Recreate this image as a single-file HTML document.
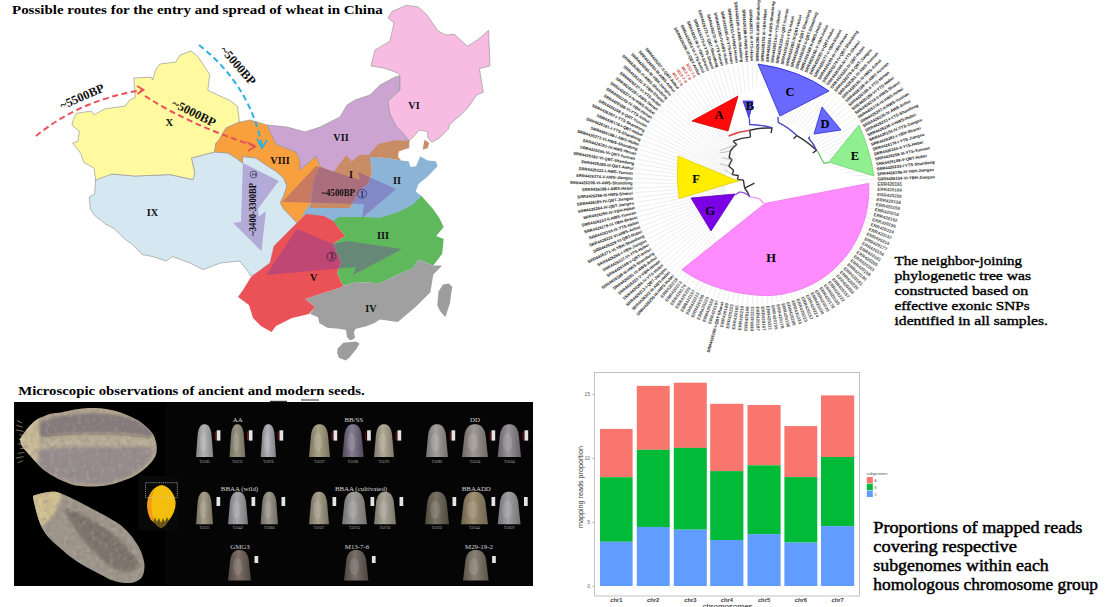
<!DOCTYPE html><html><head><meta charset="utf-8"><style>html,body{margin:0;padding:0;background:#fff;width:1108px;height:607px;overflow:hidden}svg{display:block}text{font-family:"Liberation Serif",serif}</style></head><body>
<svg width="1108" height="607" viewBox="0 0 1108 607">
<defs><radialGradient id="gr" cx="45%" cy="35%" r="75%"><stop offset="0" stop-color="#d8d4c8"/><stop offset="0.6" stop-color="#a9a395"/><stop offset="1" stop-color="#5e5a50"/></radialGradient><radialGradient id="gr2" cx="45%" cy="35%" r="75%"><stop offset="0" stop-color="#8a7e72"/><stop offset="0.7" stop-color="#5e544c"/><stop offset="1" stop-color="#3a332e"/></radialGradient><radialGradient id="sd" cx="50%" cy="50%" r="55%"><stop offset="0" stop-color="#8e8798"/><stop offset="0.55" stop-color="#a59f9b"/><stop offset="0.85" stop-color="#c8bda2"/><stop offset="1" stop-color="#d9cba0"/></radialGradient></defs>
<polygon points="95.7,178.7 103.3,174.3 112.0,174.0 135.0,176.0 170.0,174.6 193.0,179.6 194.7,173.0 191.4,158.0 214.5,152.0 228.0,153.0 236.0,158.0 242.5,163.0 242.5,156.5 256.0,158.0 265.6,164.7 275.5,171.0 283.7,178.0 287.0,186.0 283.7,196.0 280.4,202.6 283.7,209.0 292.0,217.5 297.0,223.0 282.0,238.0 274.0,246.0 270.0,263.0 255.0,274.0 250.6,276.0 248.4,271.8 239.8,261.0 220.3,263.0 203.0,269.6 190.0,263.0 172.6,256.6 166.0,261.0 153.0,256.6 142.3,254.5 131.5,243.6 125.0,239.3 114.0,228.5 105.5,224.0 94.7,215.5 90.3,209.0 89.2,197.0 94.7,193.8 95.7,178.7" fill="#d5e8f1" stroke="#9a9a9a" stroke-width="0.7"/>
<polygon points="191.0,51.0 197.9,56.7 209.8,74.5 207.8,90.3 229.6,100.3 237.5,106.2 239.5,122.0 226.0,128.0 219.0,140.0 216.0,143.0 214.5,152.0 191.4,158.0 194.7,173.0 193.0,179.6 170.0,174.6 135.0,176.0 112.0,174.0 95.6,180.0 94.1,168.2 83.7,162.3 80.8,153.4 72.6,143.0 77.8,141.5 79.3,131.2 71.9,125.2 73.4,119.3 76.3,113.4 91.2,111.0 94.1,114.8 104.5,109.0 125.3,106.0 129.7,100.0 135.3,97.4 133.9,78.0 151.2,77.2 152.6,80.0 155.5,70.0 160.0,64.0 176.0,62.0 180.0,55.0" fill="#fffaa0" stroke="#9a9a9a" stroke-width="0.7"/>
<polygon points="216.0,143.0 219.0,140.0 226.0,128.0 240.0,122.0 250.0,120.0 267.0,125.0 276.0,144.0 296.0,152.0 300.0,160.0 300.0,170.0 316.0,156.0 320.0,166.0 314.0,180.0 310.0,204.0 304.0,216.0 297.0,223.0 292.0,217.5 283.7,209.0 280.4,202.6 283.7,196.0 287.0,186.0 283.7,178.0 275.5,171.0 265.6,164.7 256.0,158.0 242.5,156.5 242.5,163.0 236.0,158.0 228.0,153.0 214.5,152.0" fill="#f8a03e" stroke="#9a9a9a" stroke-width="0.7"/>
<polygon points="267.0,125.0 287.0,127.0 305.0,132.0 320.0,127.0 340.0,117.0 347.0,105.0 355.0,100.0 370.0,95.0 380.0,85.0 395.0,77.0 400.0,76.0 400.0,90.0 388.0,101.0 390.0,114.0 396.0,126.0 403.0,133.0 409.0,141.0 409.0,148.0 390.0,150.0 372.0,160.0 360.0,165.0 348.0,168.0 332.0,178.0 320.0,172.0 320.0,166.0 316.0,156.0 300.0,170.0 300.0,160.0 296.0,152.0 276.0,144.0" fill="#cca4d2" stroke="#9a9a9a" stroke-width="0.7"/>
<polygon points="392.0,11.5 406.0,5.4 418.0,6.8 427.0,15.0 438.0,31.0 446.0,35.0 454.3,34.3 467.5,46.2 478.0,39.6 488.6,30.3 489.9,66.0 479.4,68.6 483.3,92.3 476.7,95.0 467.5,108.2 459.6,116.0 450.0,124.0 448.3,129.1 440.0,137.4 431.8,142.3 427.7,137.4 427.7,131.6 419.4,130.0 409.5,140.7 403.0,133.0 396.0,126.0 390.0,114.0 388.0,101.0 400.0,90.0 400.0,76.0 398.0,73.0 384.0,68.0 371.0,66.0 375.0,50.0 390.0,41.0 394.0,23.0 388.0,18.0" fill="#f8bce2" stroke="#9a9a9a" stroke-width="0.7"/>
<polygon points="370.0,157.0 386.5,158.0 401.3,160.4 408.7,161.2 410.4,167.0 416.0,166.2 420.2,156.3 427.7,160.4 436.0,161.2 437.5,166.2 427.4,176.7 418.5,184.0 415.6,191.5 421.5,196.0 425.0,206.0 400.0,224.0 380.0,226.0 344.0,226.0 324.0,226.0 300.0,226.0 304.0,212.0 310.0,204.0 332.0,208.0 350.0,208.0 360.0,190.0 368.0,184.0 372.0,172.0" fill="#8cb4d7" />
<polygon points="320.0,166.0 333.6,172.0 346.2,155.2 351.8,161.5 360.2,154.5 368.6,155.2 378.2,144.0 394.7,140.2 409.5,140.7 407.9,148.0 398.8,151.4 398.0,157.0 401.3,160.4 386.5,158.0 370.0,157.0 372.0,172.0 368.0,184.0 360.0,190.0 350.0,208.0 332.0,208.0 310.0,208.0 314.0,180.0" fill="#c98d66" />
<polygon points="424.4,139.8 429.3,143.0 427.7,148.0 422.7,149.7" fill="#c98d66" />
<polygon points="333.0,221.0 339.0,217.0 364.0,217.0 380.0,218.0 397.8,212.2 412.6,204.8 421.5,196.0 433.3,209.3 439.3,218.0 443.7,227.0 436.3,236.0 443.7,238.9 442.2,253.7 433.3,265.6 418.5,259.6 412.6,268.5 397.8,274.4 380.0,283.3 356.0,282.0 343.0,286.0 337.0,273.0 341.0,263.0 333.0,244.0 345.0,236.0" fill="#60b85c" />
<polygon points="343.0,286.0 356.0,282.0 380.0,283.3 397.8,274.4 412.6,268.5 418.5,259.6 433.3,265.6 442.2,265.6 433.3,274.4 430.4,292.2 415.6,307.0 397.8,321.9 380.0,319.6 374.6,323.0 365.4,326.5 356.0,328.8 345.8,330.0 338.8,328.8 327.3,327.7 319.2,323.0 318.0,317.3 310.0,313.8 315.0,307.0 305.0,299.0 317.0,295.0 342.0,287.0" fill="#a0a0a0" />
<polygon points="345.8,328.0 356.0,328.0 353.8,332.3 355.0,338.0 350.4,340.4 346.9,337.0" fill="#9d9d9d" />
<polygon points="337.7,348.4 343.4,342.7 356.0,341.5 359.6,343.8 356.0,349.6 349.2,357.7 345.8,360.5 338.8,357.7 337.1,353.0" fill="#9d9d9d" />
<polygon points="448.8,283.5 452.3,287.0 451.0,295.0 450.0,303.0 445.4,317.0 440.0,311.0 437.3,305.4 438.5,291.5 443.0,284.6" fill="#9d9d9d" />
<polygon points="297.0,223.0 304.0,216.0 306.0,214.0 324.0,216.0 333.0,221.0 345.0,236.0 333.0,244.0 341.0,263.0 337.0,273.0 343.0,286.0 342.0,287.0 317.0,295.0 305.0,299.0 315.0,307.0 309.0,314.0 292.0,318.0 276.0,326.0 271.5,332.0 261.0,326.0 253.0,318.0 249.0,305.0 238.0,297.0 243.0,290.0 251.0,277.0 270.0,263.0 274.0,246.0 282.0,238.0" fill="#ea5258" />
<polygon points="282.0,202.0 316.0,166.0 360.0,180.0 358.0,172.0 396.0,189.0 362.0,218.0 364.0,204.0" fill="rgb(116,54,165)" fill-opacity="0.35"/>
<polygon points="242.9,163.0 278.8,181.0 258.0,208.7 258.7,216.6 265.9,211.3 261.4,251.2 233.0,223.0 241.0,221.8" fill="rgb(116,54,165)" fill-opacity="0.35"/>
<polygon points="266.0,275.0 297.0,229.0 333.0,244.0 347.0,241.0 402.0,249.0 353.0,275.0 356.0,267.0" fill="rgb(116,54,165)" fill-opacity="0.36"/>
<path d="M36,136 Q80,100 142,90" fill="none" stroke="#e8505a" stroke-width="2" stroke-dasharray="6,3.6"/>
<path d="M137,86 L143.5,89.8 L137.5,94" fill="none" stroke="#e8505a" stroke-width="1.8"/>
<path d="M145,96 Q190,125 255,146" fill="none" stroke="#e8505a" stroke-width="2" stroke-dasharray="6,3.6"/>
<path d="M247,142 L255,146.5 L248,151" fill="none" stroke="#e8505a" stroke-width="1.8"/>
<path d="M199,45 Q250,85 262,146" fill="none" stroke="#2ab0e0" stroke-width="2" stroke-dasharray="6,3.6"/>
<path d="M257,139 L262,148 L267,140" fill="none" stroke="#2ab0e0" stroke-width="1.8"/>
<text x="0.0" y="0.0" font-size="12.4" font-weight="bold" text-anchor="middle" fill="#111" transform="translate(83.6,100.4) rotate(-23.4)">~5500BP</text>
<text x="0.0" y="0.0" font-size="12.4" font-weight="bold" text-anchor="middle" fill="#111" transform="translate(192.2,116.6) rotate(26.3)">~5000BP</text>
<text x="0.0" y="0.0" font-size="12.4" font-weight="bold" text-anchor="middle" fill="#111" transform="translate(235,68.2) rotate(49.2)">~5000BP</text>
<text x="169.2" y="126.0" font-size="10.5" font-weight="bold" text-anchor="middle" fill="#111" >X</text>
<text x="414.0" y="109.0" font-size="10.2" font-weight="bold" text-anchor="middle" fill="#111" >VI</text>
<text x="341.0" y="141.0" font-size="10.2" font-weight="bold" text-anchor="middle" fill="#111" >VII</text>
<text x="280.0" y="164.0" font-size="10.2" font-weight="bold" text-anchor="middle" fill="#111" >VIII</text>
<text x="351.0" y="178.0" font-size="10.2" font-weight="bold" text-anchor="middle" fill="#111" >I</text>
<text x="397.0" y="184.0" font-size="10.2" font-weight="bold" text-anchor="middle" fill="#111" >II</text>
<text x="321.5" y="195.9" font-size="10.0" font-weight="bold" text-anchor="start" fill="#111" textLength="33.5" lengthAdjust="spacingAndGlyphs">~4500BP</text>
<circle cx="362.1" cy="193.8" r="4.5" fill="none" stroke="#35356a" stroke-width="0.8"/>
<text x="362.1" y="196.6" font-size="7.5" font-weight="bold" text-anchor="middle" fill="#222" >1</text>
<text x="383.0" y="239.0" font-size="10.2" font-weight="bold" text-anchor="middle" fill="#111" >III</text>
<text x="313.7" y="281.0" font-size="10.2" font-weight="bold" text-anchor="middle" fill="#111" >V</text>
<text x="371.0" y="312.0" font-size="10.2" font-weight="bold" text-anchor="middle" fill="#111" >IV</text>
<text x="152.5" y="216.0" font-size="10.2" font-weight="bold" text-anchor="middle" fill="#111" >IX</text>
<circle cx="331.5" cy="256.5" r="4.5" fill="none" stroke="#35254a" stroke-width="0.8"/>
<text x="331.5" y="259.3" font-size="7.5" font-weight="bold" text-anchor="middle" fill="#222" >3</text>
<text x="0.0" y="0.0" font-size="10.5" font-weight="bold" text-anchor="middle" fill="#111" transform="translate(255.5,209.3) rotate(-90)" textLength="52.7" lengthAdjust="spacingAndGlyphs">~3400-3300BP</text>
<circle cx="253.5" cy="174.5" r="3.4" fill="none" stroke="#35356a" stroke-width="0.7"/>
<text x="0.0" y="0.0" font-size="5.8" font-weight="bold" text-anchor="middle" fill="#222" transform="translate(255.6,174.5) rotate(-90)">2</text>
<text x="12.0" y="13.9" font-size="13.0" font-weight="bold" text-anchor="start" fill="#000" textLength="370.8" lengthAdjust="spacingAndGlyphs">Possible routes for the entry and spread of wheat in China</text>
<text x="18.2" y="394.8" font-size="12.0" font-weight="bold" text-anchor="start" fill="#000" textLength="346.5" lengthAdjust="spacingAndGlyphs">Microscopic observations of ancient and modern seeds.</text>
<line x1="785.0" y1="184.0" x2="875.5" y2="184.0" stroke="#e2e2e2" stroke-width="0.6"/>
<line x1="785.0" y1="185.3" x2="875.4" y2="189.0" stroke="#e2e2e2" stroke-width="0.6"/>
<line x1="784.9" y1="186.5" x2="875.1" y2="194.1" stroke="#e2e2e2" stroke-width="0.6"/>
<line x1="784.8" y1="187.8" x2="874.5" y2="199.1" stroke="#e2e2e2" stroke-width="0.6"/>
<line x1="784.6" y1="189.0" x2="873.8" y2="204.1" stroke="#e2e2e2" stroke-width="0.6"/>
<line x1="784.3" y1="190.2" x2="872.9" y2="209.1" stroke="#e2e2e2" stroke-width="0.6"/>
<line x1="784.1" y1="191.5" x2="871.7" y2="214.0" stroke="#e2e2e2" stroke-width="0.6"/>
<line x1="783.7" y1="192.7" x2="870.4" y2="218.8" stroke="#e2e2e2" stroke-width="0.6"/>
<line x1="783.3" y1="193.9" x2="868.8" y2="223.6" stroke="#e2e2e2" stroke-width="0.6"/>
<line x1="782.9" y1="195.0" x2="867.0" y2="228.4" stroke="#e2e2e2" stroke-width="0.6"/>
<line x1="782.4" y1="196.2" x2="865.1" y2="233.0" stroke="#e2e2e2" stroke-width="0.6"/>
<line x1="781.9" y1="197.3" x2="862.9" y2="237.6" stroke="#e2e2e2" stroke-width="0.6"/>
<line x1="781.3" y1="198.5" x2="860.6" y2="242.1" stroke="#e2e2e2" stroke-width="0.6"/>
<line x1="780.7" y1="199.5" x2="858.1" y2="246.4" stroke="#e2e2e2" stroke-width="0.6"/>
<line x1="780.0" y1="200.6" x2="855.4" y2="250.7" stroke="#e2e2e2" stroke-width="0.6"/>
<line x1="779.3" y1="201.6" x2="852.5" y2="254.8" stroke="#e2e2e2" stroke-width="0.6"/>
<line x1="778.5" y1="202.6" x2="849.4" y2="258.8" stroke="#e2e2e2" stroke-width="0.6"/>
<line x1="777.7" y1="203.6" x2="846.2" y2="262.7" stroke="#e2e2e2" stroke-width="0.6"/>
<line x1="776.9" y1="204.5" x2="842.8" y2="266.5" stroke="#e2e2e2" stroke-width="0.6"/>
<line x1="776.0" y1="205.4" x2="839.3" y2="270.1" stroke="#e2e2e2" stroke-width="0.6"/>
<line x1="775.1" y1="206.3" x2="835.6" y2="273.5" stroke="#e2e2e2" stroke-width="0.6"/>
<line x1="774.1" y1="207.1" x2="831.8" y2="276.8" stroke="#e2e2e2" stroke-width="0.6"/>
<line x1="773.1" y1="207.9" x2="827.9" y2="280.0" stroke="#e2e2e2" stroke-width="0.6"/>
<line x1="772.1" y1="208.6" x2="823.8" y2="282.9" stroke="#e2e2e2" stroke-width="0.6"/>
<line x1="771.1" y1="209.3" x2="819.6" y2="285.7" stroke="#e2e2e2" stroke-width="0.6"/>
<line x1="770.0" y1="210.0" x2="815.2" y2="288.4" stroke="#e2e2e2" stroke-width="0.6"/>
<line x1="768.9" y1="210.6" x2="810.8" y2="290.8" stroke="#e2e2e2" stroke-width="0.6"/>
<line x1="767.8" y1="211.1" x2="806.3" y2="293.0" stroke="#e2e2e2" stroke-width="0.6"/>
<line x1="766.6" y1="211.7" x2="801.7" y2="295.1" stroke="#e2e2e2" stroke-width="0.6"/>
<line x1="765.5" y1="212.1" x2="797.0" y2="296.9" stroke="#e2e2e2" stroke-width="0.6"/>
<line x1="764.3" y1="212.5" x2="792.2" y2="298.6" stroke="#e2e2e2" stroke-width="0.6"/>
<line x1="763.1" y1="212.9" x2="787.4" y2="300.1" stroke="#e2e2e2" stroke-width="0.6"/>
<line x1="761.9" y1="213.2" x2="782.5" y2="301.3" stroke="#e2e2e2" stroke-width="0.6"/>
<line x1="760.6" y1="213.5" x2="777.6" y2="302.4" stroke="#e2e2e2" stroke-width="0.6"/>
<line x1="759.4" y1="213.7" x2="772.6" y2="303.2" stroke="#e2e2e2" stroke-width="0.6"/>
<line x1="758.1" y1="213.8" x2="767.6" y2="303.8" stroke="#e2e2e2" stroke-width="0.6"/>
<line x1="756.9" y1="213.9" x2="762.6" y2="304.3" stroke="#e2e2e2" stroke-width="0.6"/>
<line x1="755.6" y1="214.0" x2="757.5" y2="304.5" stroke="#e2e2e2" stroke-width="0.6"/>
<line x1="754.4" y1="214.0" x2="752.5" y2="304.5" stroke="#e2e2e2" stroke-width="0.6"/>
<line x1="753.1" y1="213.9" x2="747.4" y2="304.3" stroke="#e2e2e2" stroke-width="0.6"/>
<line x1="751.9" y1="213.8" x2="742.4" y2="303.8" stroke="#e2e2e2" stroke-width="0.6"/>
<line x1="750.6" y1="213.7" x2="737.4" y2="303.2" stroke="#e2e2e2" stroke-width="0.6"/>
<line x1="749.4" y1="213.5" x2="732.4" y2="302.4" stroke="#e2e2e2" stroke-width="0.6"/>
<line x1="748.1" y1="213.2" x2="727.5" y2="301.3" stroke="#e2e2e2" stroke-width="0.6"/>
<line x1="746.9" y1="212.9" x2="722.6" y2="300.1" stroke="#e2e2e2" stroke-width="0.6"/>
<line x1="745.7" y1="212.5" x2="717.8" y2="298.6" stroke="#e2e2e2" stroke-width="0.6"/>
<line x1="744.5" y1="212.1" x2="713.0" y2="296.9" stroke="#e2e2e2" stroke-width="0.6"/>
<line x1="743.4" y1="211.7" x2="708.3" y2="295.1" stroke="#e2e2e2" stroke-width="0.6"/>
<line x1="742.2" y1="211.1" x2="703.7" y2="293.0" stroke="#e2e2e2" stroke-width="0.6"/>
<line x1="741.1" y1="210.6" x2="699.2" y2="290.8" stroke="#e2e2e2" stroke-width="0.6"/>
<line x1="740.0" y1="210.0" x2="694.8" y2="288.4" stroke="#e2e2e2" stroke-width="0.6"/>
<line x1="738.9" y1="209.3" x2="690.4" y2="285.7" stroke="#e2e2e2" stroke-width="0.6"/>
<line x1="737.9" y1="208.6" x2="686.2" y2="282.9" stroke="#e2e2e2" stroke-width="0.6"/>
<line x1="736.9" y1="207.9" x2="682.1" y2="280.0" stroke="#e2e2e2" stroke-width="0.6"/>
<line x1="735.9" y1="207.1" x2="678.2" y2="276.8" stroke="#e2e2e2" stroke-width="0.6"/>
<line x1="734.9" y1="206.3" x2="674.4" y2="273.5" stroke="#e2e2e2" stroke-width="0.6"/>
<line x1="734.0" y1="205.5" x2="670.8" y2="270.2" stroke="#e2e2e2" stroke-width="0.6"/>
<line x1="733.2" y1="204.6" x2="667.4" y2="266.8" stroke="#e2e2e2" stroke-width="0.6"/>
<line x1="732.4" y1="203.7" x2="664.2" y2="263.2" stroke="#e2e2e2" stroke-width="0.6"/>
<line x1="731.6" y1="202.8" x2="661.0" y2="259.5" stroke="#e2e2e2" stroke-width="0.6"/>
<line x1="730.9" y1="201.8" x2="658.1" y2="255.6" stroke="#e2e2e2" stroke-width="0.6"/>
<line x1="730.2" y1="200.8" x2="655.3" y2="251.7" stroke="#e2e2e2" stroke-width="0.6"/>
<line x1="729.5" y1="199.8" x2="652.6" y2="247.6" stroke="#e2e2e2" stroke-width="0.6"/>
<line x1="728.9" y1="198.8" x2="650.2" y2="243.4" stroke="#e2e2e2" stroke-width="0.6"/>
<line x1="728.3" y1="197.7" x2="647.9" y2="239.1" stroke="#e2e2e2" stroke-width="0.6"/>
<line x1="727.8" y1="196.6" x2="645.7" y2="234.8" stroke="#e2e2e2" stroke-width="0.6"/>
<line x1="727.3" y1="195.5" x2="643.8" y2="230.3" stroke="#e2e2e2" stroke-width="0.6"/>
<line x1="726.9" y1="194.4" x2="642.0" y2="225.8" stroke="#e2e2e2" stroke-width="0.6"/>
<line x1="726.5" y1="193.3" x2="640.4" y2="221.2" stroke="#e2e2e2" stroke-width="0.6"/>
<line x1="726.1" y1="192.1" x2="639.0" y2="216.6" stroke="#e2e2e2" stroke-width="0.6"/>
<line x1="725.8" y1="190.9" x2="637.8" y2="211.9" stroke="#e2e2e2" stroke-width="0.6"/>
<line x1="725.6" y1="189.8" x2="636.7" y2="207.2" stroke="#e2e2e2" stroke-width="0.6"/>
<line x1="725.4" y1="188.6" x2="635.9" y2="202.4" stroke="#e2e2e2" stroke-width="0.6"/>
<line x1="725.2" y1="187.4" x2="635.3" y2="197.6" stroke="#e2e2e2" stroke-width="0.6"/>
<line x1="725.1" y1="186.2" x2="634.8" y2="192.7" stroke="#e2e2e2" stroke-width="0.6"/>
<line x1="725.0" y1="185.0" x2="634.6" y2="187.9" stroke="#e2e2e2" stroke-width="0.6"/>
<line x1="725.0" y1="183.8" x2="634.5" y2="183.0" stroke="#e2e2e2" stroke-width="0.6"/>
<line x1="725.0" y1="182.6" x2="634.6" y2="178.2" stroke="#e2e2e2" stroke-width="0.6"/>
<line x1="725.1" y1="181.3" x2="635.0" y2="173.3" stroke="#e2e2e2" stroke-width="0.6"/>
<line x1="725.2" y1="180.1" x2="635.5" y2="168.5" stroke="#e2e2e2" stroke-width="0.6"/>
<line x1="725.4" y1="178.9" x2="636.2" y2="163.7" stroke="#e2e2e2" stroke-width="0.6"/>
<line x1="725.7" y1="177.8" x2="637.1" y2="158.9" stroke="#e2e2e2" stroke-width="0.6"/>
<line x1="725.9" y1="176.6" x2="638.2" y2="154.2" stroke="#e2e2e2" stroke-width="0.6"/>
<line x1="726.3" y1="175.4" x2="639.5" y2="149.5" stroke="#e2e2e2" stroke-width="0.6"/>
<line x1="726.6" y1="174.3" x2="641.0" y2="144.9" stroke="#e2e2e2" stroke-width="0.6"/>
<line x1="727.0" y1="173.1" x2="642.7" y2="140.4" stroke="#e2e2e2" stroke-width="0.6"/>
<line x1="727.5" y1="172.0" x2="644.5" y2="135.9" stroke="#e2e2e2" stroke-width="0.6"/>
<line x1="728.0" y1="170.9" x2="646.6" y2="131.5" stroke="#e2e2e2" stroke-width="0.6"/>
<line x1="728.5" y1="169.8" x2="648.8" y2="127.1" stroke="#e2e2e2" stroke-width="0.6"/>
<line x1="729.1" y1="168.8" x2="651.1" y2="122.9" stroke="#e2e2e2" stroke-width="0.6"/>
<line x1="729.8" y1="167.8" x2="653.7" y2="118.8" stroke="#e2e2e2" stroke-width="0.6"/>
<line x1="730.4" y1="166.8" x2="656.4" y2="114.8" stroke="#e2e2e2" stroke-width="0.6"/>
<line x1="731.2" y1="165.8" x2="659.3" y2="110.8" stroke="#e2e2e2" stroke-width="0.6"/>
<line x1="731.9" y1="164.8" x2="662.3" y2="107.0" stroke="#e2e2e2" stroke-width="0.6"/>
<line x1="732.7" y1="163.9" x2="665.5" y2="103.4" stroke="#e2e2e2" stroke-width="0.6"/>
<line x1="733.5" y1="163.0" x2="668.8" y2="99.8" stroke="#e2e2e2" stroke-width="0.6"/>
<line x1="734.4" y1="162.2" x2="672.3" y2="96.4" stroke="#e2e2e2" stroke-width="0.6"/>
<line x1="735.3" y1="161.4" x2="675.9" y2="93.1" stroke="#e2e2e2" stroke-width="0.6"/>
<line x1="736.3" y1="160.6" x2="679.7" y2="89.9" stroke="#e2e2e2" stroke-width="0.6"/>
<line x1="737.2" y1="159.8" x2="683.6" y2="86.9" stroke="#e2e2e2" stroke-width="0.6"/>
<line x1="738.2" y1="159.1" x2="687.6" y2="84.1" stroke="#e2e2e2" stroke-width="0.6"/>
<line x1="739.3" y1="158.5" x2="691.7" y2="81.4" stroke="#e2e2e2" stroke-width="0.6"/>
<line x1="740.3" y1="157.8" x2="696.0" y2="78.9" stroke="#e2e2e2" stroke-width="0.6"/>
<line x1="741.4" y1="157.3" x2="700.3" y2="76.6" stroke="#e2e2e2" stroke-width="0.6"/>
<line x1="742.5" y1="156.7" x2="704.7" y2="74.5" stroke="#e2e2e2" stroke-width="0.6"/>
<line x1="743.6" y1="156.3" x2="709.2" y2="72.5" stroke="#e2e2e2" stroke-width="0.6"/>
<line x1="744.7" y1="155.8" x2="713.8" y2="70.8" stroke="#e2e2e2" stroke-width="0.6"/>
<line x1="745.9" y1="155.4" x2="718.4" y2="69.2" stroke="#e2e2e2" stroke-width="0.6"/>
<line x1="747.1" y1="155.1" x2="723.1" y2="67.8" stroke="#e2e2e2" stroke-width="0.6"/>
<line x1="748.3" y1="154.8" x2="727.9" y2="66.6" stroke="#e2e2e2" stroke-width="0.6"/>
<line x1="749.4" y1="154.5" x2="732.7" y2="65.6" stroke="#e2e2e2" stroke-width="0.6"/>
<line x1="750.7" y1="154.3" x2="737.5" y2="64.8" stroke="#e2e2e2" stroke-width="0.6"/>
<line x1="751.9" y1="154.2" x2="742.4" y2="64.2" stroke="#e2e2e2" stroke-width="0.6"/>
<line x1="753.1" y1="154.1" x2="747.3" y2="63.7" stroke="#e2e2e2" stroke-width="0.6"/>
<line x1="754.3" y1="154.0" x2="752.2" y2="63.5" stroke="#e2e2e2" stroke-width="0.6"/>
<line x1="755.5" y1="154.0" x2="757.1" y2="63.5" stroke="#e2e2e2" stroke-width="0.6"/>
<line x1="756.7" y1="154.1" x2="762.0" y2="63.7" stroke="#e2e2e2" stroke-width="0.6"/>
<line x1="758.0" y1="154.1" x2="766.9" y2="64.1" stroke="#e2e2e2" stroke-width="0.6"/>
<line x1="759.2" y1="154.3" x2="771.8" y2="64.7" stroke="#e2e2e2" stroke-width="0.6"/>
<line x1="760.4" y1="154.5" x2="776.6" y2="65.5" stroke="#e2e2e2" stroke-width="0.6"/>
<line x1="761.6" y1="154.7" x2="781.4" y2="66.4" stroke="#e2e2e2" stroke-width="0.6"/>
<line x1="762.8" y1="155.0" x2="786.2" y2="67.6" stroke="#e2e2e2" stroke-width="0.6"/>
<line x1="763.9" y1="155.4" x2="790.9" y2="69.0" stroke="#e2e2e2" stroke-width="0.6"/>
<line x1="765.1" y1="155.8" x2="795.6" y2="70.5" stroke="#e2e2e2" stroke-width="0.6"/>
<line x1="766.2" y1="156.2" x2="800.1" y2="72.3" stroke="#e2e2e2" stroke-width="0.6"/>
<line x1="767.4" y1="156.7" x2="804.7" y2="74.2" stroke="#e2e2e2" stroke-width="0.6"/>
<line x1="768.5" y1="157.2" x2="809.1" y2="76.3" stroke="#e2e2e2" stroke-width="0.6"/>
<line x1="769.5" y1="157.8" x2="813.4" y2="78.6" stroke="#e2e2e2" stroke-width="0.6"/>
<line x1="770.6" y1="158.4" x2="817.7" y2="81.1" stroke="#e2e2e2" stroke-width="0.6"/>
<line x1="771.6" y1="159.0" x2="821.8" y2="83.7" stroke="#e2e2e2" stroke-width="0.6"/>
<line x1="772.6" y1="159.7" x2="825.8" y2="86.5" stroke="#e2e2e2" stroke-width="0.6"/>
<line x1="773.6" y1="160.5" x2="829.7" y2="89.5" stroke="#e2e2e2" stroke-width="0.6"/>
<line x1="774.5" y1="161.2" x2="833.5" y2="92.6" stroke="#e2e2e2" stroke-width="0.6"/>
<line x1="775.5" y1="162.1" x2="837.2" y2="95.9" stroke="#e2e2e2" stroke-width="0.6"/>
<line x1="776.3" y1="162.9" x2="840.7" y2="99.3" stroke="#e2e2e2" stroke-width="0.6"/>
<line x1="777.2" y1="163.8" x2="844.1" y2="102.9" stroke="#e2e2e2" stroke-width="0.6"/>
<line x1="778.0" y1="164.7" x2="847.3" y2="106.5" stroke="#e2e2e2" stroke-width="0.6"/>
<line x1="778.8" y1="165.7" x2="850.4" y2="110.4" stroke="#e2e2e2" stroke-width="0.6"/>
<line x1="779.5" y1="166.7" x2="853.4" y2="114.4" stroke="#e2e2e2" stroke-width="0.6"/>
<line x1="780.2" y1="167.7" x2="856.1" y2="118.5" stroke="#e2e2e2" stroke-width="0.6"/>
<line x1="780.8" y1="168.7" x2="858.7" y2="122.7" stroke="#e2e2e2" stroke-width="0.6"/>
<line x1="781.4" y1="169.8" x2="861.2" y2="127.0" stroke="#e2e2e2" stroke-width="0.6"/>
<line x1="782.0" y1="170.9" x2="863.4" y2="131.4" stroke="#e2e2e2" stroke-width="0.6"/>
<line x1="782.5" y1="172.0" x2="865.5" y2="135.9" stroke="#e2e2e2" stroke-width="0.6"/>
<line x1="783.0" y1="173.2" x2="867.4" y2="140.5" stroke="#e2e2e2" stroke-width="0.6"/>
<line x1="783.4" y1="174.3" x2="869.1" y2="145.1" stroke="#e2e2e2" stroke-width="0.6"/>
<line x1="783.8" y1="175.5" x2="870.6" y2="149.8" stroke="#e2e2e2" stroke-width="0.6"/>
<line x1="784.1" y1="176.7" x2="871.9" y2="154.6" stroke="#e2e2e2" stroke-width="0.6"/>
<line x1="784.4" y1="177.9" x2="873.0" y2="159.4" stroke="#e2e2e2" stroke-width="0.6"/>
<line x1="784.6" y1="179.1" x2="873.9" y2="164.3" stroke="#e2e2e2" stroke-width="0.6"/>
<line x1="784.8" y1="180.3" x2="874.6" y2="169.2" stroke="#e2e2e2" stroke-width="0.6"/>
<line x1="784.9" y1="181.5" x2="875.1" y2="174.1" stroke="#e2e2e2" stroke-width="0.6"/>
<line x1="785.0" y1="182.8" x2="875.4" y2="179.1" stroke="#e2e2e2" stroke-width="0.6"/>
<text x="877.5" y="184.0" font-size="4.50" text-anchor="start" fill="#505050" font-weight="bold" transform="rotate(0.00 877.5 184.0)" style="font-family:'Liberation Sans',sans-serif" dy="1.6">ERR420191</text>
<text x="877.4" y="189.1" font-size="4.50" text-anchor="start" fill="#505050" font-weight="bold" transform="rotate(2.40 877.4 189.1)" style="font-family:'Liberation Sans',sans-serif" dy="1.6">ERR420169</text>
<text x="877.1" y="194.3" font-size="4.50" text-anchor="start" fill="#505050" font-weight="bold" transform="rotate(4.80 877.1 194.3)" style="font-family:'Liberation Sans',sans-serif" dy="1.6">ERR420200</text>
<text x="876.5" y="199.4" font-size="4.50" text-anchor="start" fill="#505050" font-weight="bold" transform="rotate(7.20 876.5 199.4)" style="font-family:'Liberation Sans',sans-serif" dy="1.6">ERR420156</text>
<text x="875.8" y="204.4" font-size="4.50" text-anchor="start" fill="#505050" font-weight="bold" transform="rotate(9.60 875.8 204.4)" style="font-family:'Liberation Sans',sans-serif" dy="1.6">ERR420159</text>
<text x="874.8" y="209.5" font-size="4.50" text-anchor="start" fill="#505050" font-weight="bold" transform="rotate(12.00 874.8 209.5)" style="font-family:'Liberation Sans',sans-serif" dy="1.6">ERR420218</text>
<text x="873.7" y="214.5" font-size="4.50" text-anchor="start" fill="#505050" font-weight="bold" transform="rotate(14.40 873.7 214.5)" style="font-family:'Liberation Sans',sans-serif" dy="1.6">ERR420162</text>
<text x="872.3" y="219.4" font-size="4.50" text-anchor="start" fill="#505050" font-weight="bold" transform="rotate(16.80 872.3 219.4)" style="font-family:'Liberation Sans',sans-serif" dy="1.6">ERR420196</text>
<text x="870.7" y="224.3" font-size="4.50" text-anchor="start" fill="#505050" font-weight="bold" transform="rotate(19.20 870.7 224.3)" style="font-family:'Liberation Sans',sans-serif" dy="1.6">ERR420224</text>
<text x="868.9" y="229.1" font-size="4.50" text-anchor="start" fill="#505050" font-weight="bold" transform="rotate(21.60 868.9 229.1)" style="font-family:'Liberation Sans',sans-serif" dy="1.6">ERR420157</text>
<text x="866.9" y="233.8" font-size="4.50" text-anchor="start" fill="#505050" font-weight="bold" transform="rotate(24.00 866.9 233.8)" style="font-family:'Liberation Sans',sans-serif" dy="1.6">ERR420214</text>
<text x="864.7" y="238.5" font-size="4.50" text-anchor="start" fill="#505050" font-weight="bold" transform="rotate(26.40 864.7 238.5)" style="font-family:'Liberation Sans',sans-serif" dy="1.6">ERR420177</text>
<text x="862.3" y="243.0" font-size="4.50" text-anchor="start" fill="#505050" font-weight="bold" transform="rotate(28.80 862.3 243.0)" style="font-family:'Liberation Sans',sans-serif" dy="1.6">ERR420154</text>
<text x="859.8" y="247.5" font-size="4.50" text-anchor="start" fill="#505050" font-weight="bold" transform="rotate(31.20 859.8 247.5)" style="font-family:'Liberation Sans',sans-serif" dy="1.6">ERR420161</text>
<text x="857.0" y="251.8" font-size="4.50" text-anchor="start" fill="#505050" font-weight="bold" transform="rotate(33.60 857.0 251.8)" style="font-family:'Liberation Sans',sans-serif" dy="1.6">ERR420205</text>
<text x="854.1" y="256.0" font-size="4.50" text-anchor="start" fill="#505050" font-weight="bold" transform="rotate(36.00 854.1 256.0)" style="font-family:'Liberation Sans',sans-serif" dy="1.6">ERR420203</text>
<text x="851.0" y="260.1" font-size="4.50" text-anchor="start" fill="#505050" font-weight="bold" transform="rotate(38.40 851.0 260.1)" style="font-family:'Liberation Sans',sans-serif" dy="1.6">ERR420158</text>
<text x="847.7" y="264.0" font-size="4.50" text-anchor="start" fill="#505050" font-weight="bold" transform="rotate(40.80 847.7 264.0)" style="font-family:'Liberation Sans',sans-serif" dy="1.6">ERR420180</text>
<text x="844.3" y="267.9" font-size="4.50" text-anchor="start" fill="#505050" font-weight="bold" transform="rotate(43.20 844.3 267.9)" style="font-family:'Liberation Sans',sans-serif" dy="1.6">ERR420161</text>
<text x="840.7" y="271.5" font-size="4.50" text-anchor="start" fill="#505050" font-weight="bold" transform="rotate(45.60 840.7 271.5)" style="font-family:'Liberation Sans',sans-serif" dy="1.6">ERR420220</text>
<text x="837.0" y="275.0" font-size="4.50" text-anchor="start" fill="#505050" font-weight="bold" transform="rotate(48.00 837.0 275.0)" style="font-family:'Liberation Sans',sans-serif" dy="1.6">ERR420204</text>
<text x="833.1" y="278.4" font-size="4.50" text-anchor="start" fill="#505050" font-weight="bold" transform="rotate(50.40 833.1 278.4)" style="font-family:'Liberation Sans',sans-serif" dy="1.6">ERR420157</text>
<text x="829.1" y="281.6" font-size="4.50" text-anchor="start" fill="#505050" font-weight="bold" transform="rotate(52.80 829.1 281.6)" style="font-family:'Liberation Sans',sans-serif" dy="1.6">ERR420222</text>
<text x="824.9" y="284.6" font-size="4.50" text-anchor="start" fill="#505050" font-weight="bold" transform="rotate(55.20 824.9 284.6)" style="font-family:'Liberation Sans',sans-serif" dy="1.6">ERR420165</text>
<text x="820.6" y="287.4" font-size="4.50" text-anchor="start" fill="#505050" font-weight="bold" transform="rotate(57.60 820.6 287.4)" style="font-family:'Liberation Sans',sans-serif" dy="1.6">ERR420178</text>
<text x="816.2" y="290.1" font-size="4.50" text-anchor="start" fill="#505050" font-weight="bold" transform="rotate(60.00 816.2 290.1)" style="font-family:'Liberation Sans',sans-serif" dy="1.6">ERR420230</text>
<text x="811.8" y="292.6" font-size="4.50" text-anchor="start" fill="#505050" font-weight="bold" transform="rotate(62.40 811.8 292.6)" style="font-family:'Liberation Sans',sans-serif" dy="1.6">ERR420230</text>
<text x="807.2" y="294.8" font-size="4.50" text-anchor="start" fill="#505050" font-weight="bold" transform="rotate(64.80 807.2 294.8)" style="font-family:'Liberation Sans',sans-serif" dy="1.6">ERR420224</text>
<text x="802.5" y="296.9" font-size="4.50" text-anchor="start" fill="#505050" font-weight="bold" transform="rotate(67.20 802.5 296.9)" style="font-family:'Liberation Sans',sans-serif" dy="1.6">ERR420157</text>
<text x="797.7" y="298.8" font-size="4.50" text-anchor="start" fill="#505050" font-weight="bold" transform="rotate(69.60 797.7 298.8)" style="font-family:'Liberation Sans',sans-serif" dy="1.6">ERR420223</text>
<text x="792.9" y="300.5" font-size="4.50" text-anchor="start" fill="#505050" font-weight="bold" transform="rotate(72.00 792.9 300.5)" style="font-family:'Liberation Sans',sans-serif" dy="1.6">ERR420224</text>
<text x="787.9" y="302.0" font-size="4.50" text-anchor="start" fill="#505050" font-weight="bold" transform="rotate(74.40 787.9 302.0)" style="font-family:'Liberation Sans',sans-serif" dy="1.6">ERR420200</text>
<text x="783.0" y="303.3" font-size="4.50" text-anchor="start" fill="#505050" font-weight="bold" transform="rotate(76.80 783.0 303.3)" style="font-family:'Liberation Sans',sans-serif" dy="1.6">ERR420156</text>
<text x="778.0" y="304.3" font-size="4.50" text-anchor="start" fill="#505050" font-weight="bold" transform="rotate(79.20 778.0 304.3)" style="font-family:'Liberation Sans',sans-serif" dy="1.6">ERR420178</text>
<text x="772.9" y="305.2" font-size="4.50" text-anchor="start" fill="#505050" font-weight="bold" transform="rotate(81.60 772.9 305.2)" style="font-family:'Liberation Sans',sans-serif" dy="1.6">ERR420155</text>
<text x="767.8" y="305.8" font-size="4.50" text-anchor="start" fill="#505050" font-weight="bold" transform="rotate(84.00 767.8 305.8)" style="font-family:'Liberation Sans',sans-serif" dy="1.6">ERR420221</text>
<text x="762.7" y="306.3" font-size="4.50" text-anchor="start" fill="#505050" font-weight="bold" transform="rotate(86.40 762.7 306.3)" style="font-family:'Liberation Sans',sans-serif" dy="1.6">ERR420167</text>
<text x="757.6" y="306.5" font-size="4.50" text-anchor="start" fill="#505050" font-weight="bold" transform="rotate(88.80 757.6 306.5)" style="font-family:'Liberation Sans',sans-serif" dy="1.6">ERR420187</text>
<text x="752.4" y="306.5" font-size="4.50" text-anchor="end" fill="#505050" font-weight="bold" transform="rotate(-88.80 752.4 306.5)" style="font-family:'Liberation Sans',sans-serif" dy="1.6">ERR420203</text>
<text x="747.3" y="306.3" font-size="4.50" text-anchor="end" fill="#505050" font-weight="bold" transform="rotate(-86.40 747.3 306.3)" style="font-family:'Liberation Sans',sans-serif" dy="1.6">ERR420168</text>
<text x="742.2" y="305.8" font-size="4.50" text-anchor="end" fill="#505050" font-weight="bold" transform="rotate(-84.00 742.2 305.8)" style="font-family:'Liberation Sans',sans-serif" dy="1.6">ERR420219</text>
<text x="737.1" y="305.2" font-size="4.50" text-anchor="end" fill="#505050" font-weight="bold" transform="rotate(-81.60 737.1 305.2)" style="font-family:'Liberation Sans',sans-serif" dy="1.6">ERR420165</text>
<text x="732.0" y="304.3" font-size="4.50" text-anchor="end" fill="#505050" font-weight="bold" transform="rotate(-79.20 732.0 304.3)" style="font-family:'Liberation Sans',sans-serif" dy="1.6">ERR420223</text>
<text x="727.0" y="303.3" font-size="4.50" text-anchor="end" fill="#505050" font-weight="bold" transform="rotate(-76.80 727.0 303.3)" style="font-family:'Liberation Sans',sans-serif" dy="1.6">ERR420189</text>
<text x="722.1" y="302.0" font-size="4.15" text-anchor="end" fill="#1a1a1a" font-weight="bold" transform="rotate(-74.40 722.1 302.0)" style="font-family:'Liberation Sans',sans-serif" dy="1.6">SRR4426196-I-QBT-Shanxi</text>
<text x="717.1" y="300.5" font-size="4.50" text-anchor="end" fill="#505050" font-weight="bold" transform="rotate(-72.00 717.1 300.5)" style="font-family:'Liberation Sans',sans-serif" dy="1.6">ERR420197</text>
<text x="712.3" y="298.8" font-size="4.50" text-anchor="end" fill="#505050" font-weight="bold" transform="rotate(-69.60 712.3 298.8)" style="font-family:'Liberation Sans',sans-serif" dy="1.6">ERR420162</text>
<text x="707.5" y="296.9" font-size="4.50" text-anchor="end" fill="#505050" font-weight="bold" transform="rotate(-67.20 707.5 296.9)" style="font-family:'Liberation Sans',sans-serif" dy="1.6">ERR420220</text>
<text x="702.8" y="294.8" font-size="4.50" text-anchor="end" fill="#505050" font-weight="bold" transform="rotate(-64.80 702.8 294.8)" style="font-family:'Liberation Sans',sans-serif" dy="1.6">ERR420158</text>
<text x="698.2" y="292.6" font-size="4.50" text-anchor="end" fill="#505050" font-weight="bold" transform="rotate(-62.40 698.2 292.6)" style="font-family:'Liberation Sans',sans-serif" dy="1.6">ERR420222</text>
<text x="693.8" y="290.1" font-size="4.50" text-anchor="end" fill="#505050" font-weight="bold" transform="rotate(-60.00 693.8 290.1)" style="font-family:'Liberation Sans',sans-serif" dy="1.6">ERR420157</text>
<text x="689.4" y="287.4" font-size="4.50" text-anchor="end" fill="#505050" font-weight="bold" transform="rotate(-57.60 689.4 287.4)" style="font-family:'Liberation Sans',sans-serif" dy="1.6">ERR420229</text>
<text x="685.1" y="284.6" font-size="4.50" text-anchor="end" fill="#505050" font-weight="bold" transform="rotate(-55.20 685.1 284.6)" style="font-family:'Liberation Sans',sans-serif" dy="1.6">ERR420176</text>
<text x="680.9" y="281.6" font-size="4.50" text-anchor="end" fill="#505050" font-weight="bold" transform="rotate(-52.80 680.9 281.6)" style="font-family:'Liberation Sans',sans-serif" dy="1.6">ERR420213</text>
<text x="676.9" y="278.4" font-size="4.50" text-anchor="end" fill="#505050" font-weight="bold" transform="rotate(-50.40 676.9 278.4)" style="font-family:'Liberation Sans',sans-serif" dy="1.6">ERR420218</text>
<text x="673.0" y="275.0" font-size="4.15" text-anchor="end" fill="#1a1a1a" font-weight="bold" transform="rotate(-48.00 673.0 275.0)" style="font-family:'Liberation Sans',sans-serif" dy="1.6">SRR4426259-III-HWS-Hubei</text>
<text x="669.4" y="271.7" font-size="4.15" text-anchor="end" fill="#1a1a1a" font-weight="bold" transform="rotate(-45.69 669.4 271.7)" style="font-family:'Liberation Sans',sans-serif" dy="1.6">SRR4426242-III-AWS-Hebei</text>
<text x="666.0" y="268.1" font-size="4.15" text-anchor="end" fill="#1a1a1a" font-weight="bold" transform="rotate(-43.38 666.0 268.1)" style="font-family:'Liberation Sans',sans-serif" dy="1.6">SRR4426212-I-QBT-Jiangsu</text>
<text x="662.7" y="264.5" font-size="4.15" text-anchor="end" fill="#1a1a1a" font-weight="bold" transform="rotate(-41.08 662.7 264.5)" style="font-family:'Liberation Sans',sans-serif" dy="1.6">SRR4426284-IV-YTS-Hubei</text>
<text x="659.5" y="260.7" font-size="4.15" text-anchor="end" fill="#1a1a1a" font-weight="bold" transform="rotate(-38.77 659.5 260.7)" style="font-family:'Liberation Sans',sans-serif" dy="1.6">SRR4426223-V-YBH-Henan</text>
<text x="656.5" y="256.8" font-size="4.15" text-anchor="end" fill="#1a1a1a" font-weight="bold" transform="rotate(-36.46 656.5 256.8)" style="font-family:'Liberation Sans',sans-serif" dy="1.6">SRR4426281-IV-AWS-Anhui</text>
<text x="653.6" y="252.8" font-size="4.15" text-anchor="end" fill="#1a1a1a" font-weight="bold" transform="rotate(-34.15 653.6 252.8)" style="font-family:'Liberation Sans',sans-serif" dy="1.6">SRR4426188-IV-HWS-Shandong</text>
<text x="650.9" y="248.6" font-size="4.15" text-anchor="end" fill="#1a1a1a" font-weight="bold" transform="rotate(-31.85 650.9 248.6)" style="font-family:'Liberation Sans',sans-serif" dy="1.6">SRR4426169-V-QBT-Anhui</text>
<text x="648.4" y="244.4" font-size="4.15" text-anchor="end" fill="#1a1a1a" font-weight="bold" transform="rotate(-29.54 648.4 244.4)" style="font-family:'Liberation Sans',sans-serif" dy="1.6">SRR4426237-VI-YTS-Hubei</text>
<text x="646.1" y="240.1" font-size="4.15" text-anchor="end" fill="#1a1a1a" font-weight="bold" transform="rotate(-27.23 646.1 240.1)" style="font-family:'Liberation Sans',sans-serif" dy="1.6">SRR4426266-I-YBH-Jiangsu</text>
<text x="643.9" y="235.6" font-size="4.15" text-anchor="end" fill="#1a1a1a" font-weight="bold" transform="rotate(-24.92 643.9 235.6)" style="font-family:'Liberation Sans',sans-serif" dy="1.6">SRR4426271-VI-YBH-Shandong</text>
<text x="641.9" y="231.1" font-size="4.15" text-anchor="end" fill="#1a1a1a" font-weight="bold" transform="rotate(-22.62 641.9 231.1)" style="font-family:'Liberation Sans',sans-serif" dy="1.6">SRR4426229-VI-QBT-Hubei</text>
<text x="640.1" y="226.5" font-size="4.15" text-anchor="end" fill="#1a1a1a" font-weight="bold" transform="rotate(-20.31 640.1 226.5)" style="font-family:'Liberation Sans',sans-serif" dy="1.6">SRR4426222-VI-HWS-Anhui</text>
<text x="638.5" y="221.9" font-size="4.15" text-anchor="end" fill="#1a1a1a" font-weight="bold" transform="rotate(-18.00 638.5 221.9)" style="font-family:'Liberation Sans',sans-serif" dy="1.6">SRR4426155-IV-YTS-Hebei</text>
<text x="637.1" y="217.1" font-size="4.15" text-anchor="end" fill="#1a1a1a" font-weight="bold" transform="rotate(-15.69 637.1 217.1)" style="font-family:'Liberation Sans',sans-serif" dy="1.6">SRR4426179-IV-YBH-Shanxi</text>
<text x="635.8" y="212.4" font-size="4.15" text-anchor="end" fill="#1a1a1a" font-weight="bold" transform="rotate(-13.38 635.8 212.4)" style="font-family:'Liberation Sans',sans-serif" dy="1.6">SRR4426223-II-AWS-Yunnan</text>
<text x="634.8" y="207.5" font-size="4.15" text-anchor="end" fill="#1a1a1a" font-weight="bold" transform="rotate(-11.08 634.8 207.5)" style="font-family:'Liberation Sans',sans-serif" dy="1.6">SRR4426250-IV-YBH-Hebei</text>
<text x="633.9" y="202.7" font-size="4.15" text-anchor="end" fill="#1a1a1a" font-weight="bold" transform="rotate(-8.77 633.9 202.7)" style="font-family:'Liberation Sans',sans-serif" dy="1.6">SRR4426264-IV-QBT-Jiangsu</text>
<text x="633.3" y="197.8" font-size="4.15" text-anchor="end" fill="#1a1a1a" font-weight="bold" transform="rotate(-6.46 633.3 197.8)" style="font-family:'Liberation Sans',sans-serif" dy="1.6">SRR4426185-IV-QBT-Jiangsu</text>
<text x="632.8" y="192.9" font-size="4.15" text-anchor="end" fill="#1a1a1a" font-weight="bold" transform="rotate(-4.15 632.8 192.9)" style="font-family:'Liberation Sans',sans-serif" dy="1.6">SRR4426256-III-HWS-Shanxi</text>
<text x="632.6" y="187.9" font-size="4.15" text-anchor="end" fill="#1a1a1a" font-weight="bold" transform="rotate(-1.85 632.6 187.9)" style="font-family:'Liberation Sans',sans-serif" dy="1.6">SRR4426188-I-AWS-Hebei</text>
<text x="632.5" y="183.0" font-size="4.15" text-anchor="end" fill="#1a1a1a" font-weight="bold" transform="rotate(0.46 632.5 183.0)" style="font-family:'Liberation Sans',sans-serif" dy="1.6">SRR4426209-VI-AWS-Shandong</text>
<text x="632.6" y="178.1" font-size="4.15" text-anchor="end" fill="#1a1a1a" font-weight="bold" transform="rotate(2.77 632.6 178.1)" style="font-family:'Liberation Sans',sans-serif" dy="1.6">SRR4426274-V-AWS-Jiangsu</text>
<text x="633.0" y="173.2" font-size="4.15" text-anchor="end" fill="#1a1a1a" font-weight="bold" transform="rotate(5.08 633.0 173.2)" style="font-family:'Liberation Sans',sans-serif" dy="1.6">SRR4426222-I-AWS-Yunnan</text>
<text x="633.5" y="168.3" font-size="4.15" text-anchor="end" fill="#1a1a1a" font-weight="bold" transform="rotate(7.38 633.5 168.3)" style="font-family:'Liberation Sans',sans-serif" dy="1.6">SRR4426286-III-QBT-Anhui</text>
<text x="634.2" y="163.4" font-size="4.15" text-anchor="end" fill="#1a1a1a" font-weight="bold" transform="rotate(9.69 634.2 163.4)" style="font-family:'Liberation Sans',sans-serif" dy="1.6">SRR4426182-VI-QBT-Shandong</text>
<text x="635.2" y="158.5" font-size="4.15" text-anchor="end" fill="#1a1a1a" font-weight="bold" transform="rotate(12.00 635.2 158.5)" style="font-family:'Liberation Sans',sans-serif" dy="1.6">SRR4426266-VI-QBT-Yunnan</text>
<text x="636.3" y="153.7" font-size="4.15" text-anchor="end" fill="#1a1a1a" font-weight="bold" transform="rotate(14.31 636.3 153.7)" style="font-family:'Liberation Sans',sans-serif" dy="1.6">SRR4426251-IV-HWS-Henan</text>
<text x="637.6" y="149.0" font-size="4.15" text-anchor="end" fill="#1a1a1a" font-weight="bold" transform="rotate(16.62 637.6 149.0)" style="font-family:'Liberation Sans',sans-serif" dy="1.6">SRR4426273-VI-HWS-Shandong</text>
<text x="639.1" y="144.3" font-size="4.15" text-anchor="end" fill="#1a1a1a" font-weight="bold" transform="rotate(18.92 639.1 144.3)" style="font-family:'Liberation Sans',sans-serif" dy="1.6">SRR4426198-I-AWS-Hubei</text>
<text x="640.8" y="139.6" font-size="4.15" text-anchor="end" fill="#1a1a1a" font-weight="bold" transform="rotate(21.23 640.8 139.6)" style="font-family:'Liberation Sans',sans-serif" dy="1.6">SRR4426191-I-YTS-Shandong</text>
<text x="642.7" y="135.1" font-size="4.15" text-anchor="end" fill="#1a1a1a" font-weight="bold" transform="rotate(23.54 642.7 135.1)" style="font-family:'Liberation Sans',sans-serif" dy="1.6">SRR4426176-I-QBT-Hebei</text>
<text x="644.8" y="130.6" font-size="4.15" text-anchor="end" fill="#1a1a1a" font-weight="bold" transform="rotate(25.85 644.8 130.6)" style="font-family:'Liberation Sans',sans-serif" dy="1.6">SRR4426287-I-YTS-Shandong</text>
<text x="647.0" y="126.2" font-size="4.15" text-anchor="end" fill="#1a1a1a" font-weight="bold" transform="rotate(28.15 647.0 126.2)" style="font-family:'Liberation Sans',sans-serif" dy="1.6">SRR4426168-II-QBT-Yunnan</text>
<text x="649.4" y="121.9" font-size="4.15" text-anchor="end" fill="#1a1a1a" font-weight="bold" transform="rotate(30.46 649.4 121.9)" style="font-family:'Liberation Sans',sans-serif" dy="1.6">SRR4426188-VI-YTS-Anhui</text>
<text x="652.0" y="117.7" font-size="4.15" text-anchor="end" fill="#1a1a1a" font-weight="bold" transform="rotate(32.77 652.0 117.7)" style="font-family:'Liberation Sans',sans-serif" dy="1.6">SRR4426243-IV-YBH-Henan</text>
<text x="654.7" y="113.6" font-size="4.15" text-anchor="end" fill="#1a1a1a" font-weight="bold" transform="rotate(35.08 654.7 113.6)" style="font-family:'Liberation Sans',sans-serif" dy="1.6">SRR4426274-IV-HWS-Hubei</text>
<text x="657.7" y="109.6" font-size="4.15" text-anchor="end" fill="#1a1a1a" font-weight="bold" transform="rotate(37.38 657.7 109.6)" style="font-family:'Liberation Sans',sans-serif" dy="1.6">SRR4426229-I-AWS-Henan</text>
<text x="660.7" y="105.8" font-size="4.15" text-anchor="end" fill="#1a1a1a" font-weight="bold" transform="rotate(39.69 660.7 105.8)" style="font-family:'Liberation Sans',sans-serif" dy="1.6">SRR4426237-VI-YTS-Hubei</text>
<text x="664.0" y="102.0" font-size="4.15" text-anchor="end" fill="#1a1a1a" font-weight="bold" transform="rotate(42.00 664.0 102.0)" style="font-family:'Liberation Sans',sans-serif" dy="1.6">SRR4426191-V-YBH-Shanxi</text>
<text x="667.4" y="98.4" font-size="4.15" text-anchor="end" fill="#1a1a1a" font-weight="bold" transform="rotate(44.33 667.4 98.4)" style="font-family:'Liberation Sans',sans-serif" dy="1.6">SRR4426285-III-AWS-Shandong</text>
<text x="670.9" y="94.9" font-size="4.15" text-anchor="end" fill="#1a1a1a" font-weight="bold" transform="rotate(46.67 670.9 94.9)" style="font-family:'Liberation Sans',sans-serif" dy="1.6">SRR4426285-III-YBH-Jiangsu</text>
<text x="674.6" y="91.5" font-size="4.15" text-anchor="end" fill="#1a1a1a" font-weight="bold" transform="rotate(49.00 674.6 91.5)" style="font-family:'Liberation Sans',sans-serif" dy="1.6">SRR4426282-III-AWS-Anhui</text>
<text x="678.5" y="88.4" font-size="4.15" text-anchor="end" fill="#1a1a1a" font-weight="bold" transform="rotate(51.33 678.5 88.4)" style="font-family:'Liberation Sans',sans-serif" dy="1.6">SRR4426207-V-QBT-Anhui</text>
<text x="682.4" y="85.3" font-size="4.15" text-anchor="end" fill="#c84848" font-weight="bold" transform="rotate(53.67 682.4 85.3)" style="font-family:'Liberation Sans',sans-serif" dy="1.6">M13-7-6</text>
<text x="686.5" y="82.4" font-size="4.15" text-anchor="end" fill="#c84848" font-weight="bold" transform="rotate(56.00 686.5 82.4)" style="font-family:'Liberation Sans',sans-serif" dy="1.6">M13-7-6</text>
<text x="690.7" y="79.7" font-size="4.15" text-anchor="end" fill="#c84848" font-weight="bold" transform="rotate(58.33 690.7 79.7)" style="font-family:'Liberation Sans',sans-serif" dy="1.6">M13-7-6</text>
<text x="695.0" y="77.2" font-size="4.15" text-anchor="end" fill="#c84848" font-weight="bold" transform="rotate(60.67 695.0 77.2)" style="font-family:'Liberation Sans',sans-serif" dy="1.6">M13-7-6</text>
<text x="699.4" y="74.9" font-size="4.15" text-anchor="end" fill="#1a1a1a" font-weight="bold" transform="rotate(63.00 699.4 74.9)" style="font-family:'Liberation Sans',sans-serif" dy="1.6">SRR4426199-VI-QBT-Anhui</text>
<text x="703.9" y="72.7" font-size="4.15" text-anchor="end" fill="#1a1a1a" font-weight="bold" transform="rotate(65.33 703.9 72.7)" style="font-family:'Liberation Sans',sans-serif" dy="1.6">SRR4426264-VI-YTS-Anhui</text>
<text x="708.5" y="70.7" font-size="4.15" text-anchor="end" fill="#1a1a1a" font-weight="bold" transform="rotate(67.67 708.5 70.7)" style="font-family:'Liberation Sans',sans-serif" dy="1.6">SRR4426170-II-YBH-Shanxi</text>
<text x="713.1" y="68.9" font-size="4.15" text-anchor="end" fill="#1a1a1a" font-weight="bold" transform="rotate(70.00 713.1 68.9)" style="font-family:'Liberation Sans',sans-serif" dy="1.6">SRR4426270-II-YTS-Shanxi</text>
<text x="717.8" y="67.3" font-size="4.15" text-anchor="end" fill="#1a1a1a" font-weight="bold" transform="rotate(72.33 717.8 67.3)" style="font-family:'Liberation Sans',sans-serif" dy="1.6">SRR4426273-V-QBT-Shandong</text>
<text x="722.6" y="65.9" font-size="4.15" text-anchor="end" fill="#1a1a1a" font-weight="bold" transform="rotate(74.67 722.6 65.9)" style="font-family:'Liberation Sans',sans-serif" dy="1.6">SRR4426272-VI-YTS-Henan</text>
<text x="727.4" y="64.6" font-size="4.15" text-anchor="end" fill="#1a1a1a" font-weight="bold" transform="rotate(77.00 727.4 64.6)" style="font-family:'Liberation Sans',sans-serif" dy="1.6">SRR4426180-IV-AWS-Hubei</text>
<text x="732.3" y="63.6" font-size="4.15" text-anchor="end" fill="#1a1a1a" font-weight="bold" transform="rotate(79.33 732.3 63.6)" style="font-family:'Liberation Sans',sans-serif" dy="1.6">SRR4426195-IV-YTS-Henan</text>
<text x="737.2" y="62.8" font-size="4.15" text-anchor="end" fill="#1a1a1a" font-weight="bold" transform="rotate(81.67 737.2 62.8)" style="font-family:'Liberation Sans',sans-serif" dy="1.6">SRR4426251-IV-HWS-Henan</text>
<text x="742.2" y="62.2" font-size="4.15" text-anchor="end" fill="#1a1a1a" font-weight="bold" transform="rotate(84.00 742.2 62.2)" style="font-family:'Liberation Sans',sans-serif" dy="1.6">SRR4426190-II-AWS-Shandong</text>
<text x="747.2" y="61.8" font-size="4.15" text-anchor="end" fill="#1a1a1a" font-weight="bold" transform="rotate(86.33 747.2 61.8)" style="font-family:'Liberation Sans',sans-serif" dy="1.6">SRR4426188-V-HWS-Hebei</text>
<text x="752.1" y="61.5" font-size="4.15" text-anchor="end" fill="#1a1a1a" font-weight="bold" transform="rotate(88.67 752.1 61.5)" style="font-family:'Liberation Sans',sans-serif" dy="1.6">SRR4426271-VI-YTS-Hebei</text>
<text x="757.1" y="61.5" font-size="4.15" text-anchor="start" fill="#1a1a1a" font-weight="bold" transform="rotate(271.00 757.1 61.5)" style="font-family:'Liberation Sans',sans-serif" dy="1.6">SRR4426290-V-AWS-Shandong</text>
<text x="762.1" y="61.7" font-size="4.15" text-anchor="start" fill="#1a1a1a" font-weight="bold" transform="rotate(273.33 762.1 61.7)" style="font-family:'Liberation Sans',sans-serif" dy="1.6">SRR4426153-VI-YBH-Hebei</text>
<text x="767.1" y="62.1" font-size="4.15" text-anchor="start" fill="#1a1a1a" font-weight="bold" transform="rotate(275.67 767.1 62.1)" style="font-family:'Liberation Sans',sans-serif" dy="1.6">SRR4426261-II-AWS-Shandong</text>
<text x="772.0" y="62.7" font-size="4.15" text-anchor="start" fill="#1a1a1a" font-weight="bold" transform="rotate(278.00 772.0 62.7)" style="font-family:'Liberation Sans',sans-serif" dy="1.6">SRR4426214-II-YTS-Shanxi</text>
<text x="777.0" y="63.5" font-size="4.15" text-anchor="start" fill="#1a1a1a" font-weight="bold" transform="rotate(280.33 777.0 63.5)" style="font-family:'Liberation Sans',sans-serif" dy="1.6">SRR4426233-III-QBT-Yunnan</text>
<text x="781.9" y="64.5" font-size="4.15" text-anchor="start" fill="#1a1a1a" font-weight="bold" transform="rotate(282.67 781.9 64.5)" style="font-family:'Liberation Sans',sans-serif" dy="1.6">SRR4426183-I-YTS-Hubei</text>
<text x="786.7" y="65.7" font-size="4.15" text-anchor="start" fill="#1a1a1a" font-weight="bold" transform="rotate(285.00 786.7 65.7)" style="font-family:'Liberation Sans',sans-serif" dy="1.6">SRR4426282-IV-QBT-Hebei</text>
<text x="791.5" y="67.1" font-size="4.15" text-anchor="start" fill="#1a1a1a" font-weight="bold" transform="rotate(287.33 791.5 67.1)" style="font-family:'Liberation Sans',sans-serif" dy="1.6">SRR4426286-II-QBT-Shandong</text>
<text x="796.2" y="68.6" font-size="4.15" text-anchor="start" fill="#1a1a1a" font-weight="bold" transform="rotate(289.67 796.2 68.6)" style="font-family:'Liberation Sans',sans-serif" dy="1.6">SRR4426262-II-QBT-Shandong</text>
<text x="800.9" y="70.4" font-size="4.15" text-anchor="start" fill="#1a1a1a" font-weight="bold" transform="rotate(292.00 800.9 70.4)" style="font-family:'Liberation Sans',sans-serif" dy="1.6">SRR4426188-II-AWS-Hubei</text>
<text x="805.5" y="72.4" font-size="4.15" text-anchor="start" fill="#1a1a1a" font-weight="bold" transform="rotate(294.33 805.5 72.4)" style="font-family:'Liberation Sans',sans-serif" dy="1.6">SRR4426180-V-YBH-Anhui</text>
<text x="810.0" y="74.5" font-size="4.15" text-anchor="start" fill="#1a1a1a" font-weight="bold" transform="rotate(296.67 810.0 74.5)" style="font-family:'Liberation Sans',sans-serif" dy="1.6">SRR4426282-V-QBT-Hubei</text>
<text x="814.4" y="76.9" font-size="4.15" text-anchor="start" fill="#1a1a1a" font-weight="bold" transform="rotate(299.00 814.4 76.9)" style="font-family:'Liberation Sans',sans-serif" dy="1.6">SRR4426177-V-YBH-Shanxi</text>
<text x="818.7" y="79.4" font-size="4.15" text-anchor="start" fill="#1a1a1a" font-weight="bold" transform="rotate(301.33 818.7 79.4)" style="font-family:'Liberation Sans',sans-serif" dy="1.6">SRR4426198-III-YBH-Henan</text>
<text x="822.9" y="82.0" font-size="4.15" text-anchor="start" fill="#1a1a1a" font-weight="bold" transform="rotate(303.67 822.9 82.0)" style="font-family:'Liberation Sans',sans-serif" dy="1.6">SRR4426279-IV-QBT-Shandong</text>
<text x="827.0" y="84.9" font-size="4.15" text-anchor="start" fill="#1a1a1a" font-weight="bold" transform="rotate(306.00 827.0 84.9)" style="font-family:'Liberation Sans',sans-serif" dy="1.6">SRR4426166-IV-YTS-Shanxi</text>
<text x="831.0" y="87.9" font-size="4.15" text-anchor="start" fill="#1a1a1a" font-weight="bold" transform="rotate(308.33 831.0 87.9)" style="font-family:'Liberation Sans',sans-serif" dy="1.6">SRR4426220-IV-QBT-Hubei</text>
<text x="834.8" y="91.1" font-size="4.15" text-anchor="start" fill="#1a1a1a" font-weight="bold" transform="rotate(310.67 834.8 91.1)" style="font-family:'Liberation Sans',sans-serif" dy="1.6">SRR4426279-II-QBT-Jiangsu</text>
<text x="838.5" y="94.4" font-size="4.15" text-anchor="start" fill="#1a1a1a" font-weight="bold" transform="rotate(313.00 838.5 94.4)" style="font-family:'Liberation Sans',sans-serif" dy="1.6">SRR4426201-IV-AWS-Yunnan</text>
<text x="842.1" y="97.9" font-size="4.15" text-anchor="start" fill="#1a1a1a" font-weight="bold" transform="rotate(315.33 842.1 97.9)" style="font-family:'Liberation Sans',sans-serif" dy="1.6">SRR4426181-IV-HWS-Anhui</text>
<text x="845.6" y="101.5" font-size="4.15" text-anchor="start" fill="#1a1a1a" font-weight="bold" transform="rotate(317.67 845.6 101.5)" style="font-family:'Liberation Sans',sans-serif" dy="1.6">SRR4426168-VI-AWS-Yunnan</text>
<text x="848.8" y="105.3" font-size="4.15" text-anchor="start" fill="#1a1a1a" font-weight="bold" transform="rotate(320.00 848.8 105.3)" style="font-family:'Liberation Sans',sans-serif" dy="1.6">SRR4426168-II-YTS-Henan</text>
<text x="852.0" y="109.2" font-size="4.15" text-anchor="start" fill="#1a1a1a" font-weight="bold" transform="rotate(322.35 852.0 109.2)" style="font-family:'Liberation Sans',sans-serif" dy="1.6">SRR4426189-VI-YTS-Hebei</text>
<text x="855.0" y="113.2" font-size="4.15" text-anchor="start" fill="#1a1a1a" font-weight="bold" transform="rotate(324.71 855.0 113.2)" style="font-family:'Liberation Sans',sans-serif" dy="1.6">SRR4426214-II-HWS-Shanxi</text>
<text x="857.8" y="117.4" font-size="4.15" text-anchor="start" fill="#1a1a1a" font-weight="bold" transform="rotate(327.06 857.8 117.4)" style="font-family:'Liberation Sans',sans-serif" dy="1.6">SRR4426174-IV-HWS-Hebei</text>
<text x="860.5" y="121.7" font-size="4.15" text-anchor="start" fill="#1a1a1a" font-weight="bold" transform="rotate(329.41 860.5 121.7)" style="font-family:'Liberation Sans',sans-serif" dy="1.6">SRR4426207-II-HWS-Yunnan</text>
<text x="862.9" y="126.0" font-size="4.15" text-anchor="start" fill="#1a1a1a" font-weight="bold" transform="rotate(331.76 862.9 126.0)" style="font-family:'Liberation Sans',sans-serif" dy="1.6">SRR4426236-IV-AWS-Anhui</text>
<text x="865.2" y="130.5" font-size="4.15" text-anchor="start" fill="#1a1a1a" font-weight="bold" transform="rotate(334.12 865.2 130.5)" style="font-family:'Liberation Sans',sans-serif" dy="1.6">SRR4426231-I-YTS-Shandong</text>
<text x="867.3" y="135.1" font-size="4.15" text-anchor="start" fill="#1a1a1a" font-weight="bold" transform="rotate(336.47 867.3 135.1)" style="font-family:'Liberation Sans',sans-serif" dy="1.6">SRR4426236-V-HWS-Hubei</text>
<text x="869.2" y="139.7" font-size="4.15" text-anchor="start" fill="#1a1a1a" font-weight="bold" transform="rotate(338.82 869.2 139.7)" style="font-family:'Liberation Sans',sans-serif" dy="1.6">SRR4426154-IV-YTS-Jiangsu</text>
<text x="870.9" y="144.5" font-size="4.15" text-anchor="start" fill="#1a1a1a" font-weight="bold" transform="rotate(341.18 870.9 144.5)" style="font-family:'Liberation Sans',sans-serif" dy="1.6">SRR4426281-I-YBH-Shanxi</text>
<text x="872.5" y="149.3" font-size="4.15" text-anchor="start" fill="#1a1a1a" font-weight="bold" transform="rotate(343.53 872.5 149.3)" style="font-family:'Liberation Sans',sans-serif" dy="1.6">SRR4426176-I-YTS-Jiangsu</text>
<text x="873.8" y="154.1" font-size="4.15" text-anchor="start" fill="#1a1a1a" font-weight="bold" transform="rotate(345.88 873.8 154.1)" style="font-family:'Liberation Sans',sans-serif" dy="1.6">SRR4426160-II-YTS-Hebei</text>
<text x="874.9" y="159.0" font-size="4.15" text-anchor="start" fill="#1a1a1a" font-weight="bold" transform="rotate(348.24 874.9 159.0)" style="font-family:'Liberation Sans',sans-serif" dy="1.6">SRR4426258-VI-YTS-Yunnan</text>
<text x="875.9" y="164.0" font-size="4.15" text-anchor="start" fill="#1a1a1a" font-weight="bold" transform="rotate(350.59 875.9 164.0)" style="font-family:'Liberation Sans',sans-serif" dy="1.6">SRR4426188-V-QBT-Hubei</text>
<text x="876.6" y="168.9" font-size="4.15" text-anchor="start" fill="#1a1a1a" font-weight="bold" transform="rotate(352.94 876.6 168.9)" style="font-family:'Liberation Sans',sans-serif" dy="1.6">SRR4426233-I-YTS-Shandong</text>
<text x="877.1" y="173.9" font-size="4.15" text-anchor="start" fill="#1a1a1a" font-weight="bold" transform="rotate(355.29 877.1 173.9)" style="font-family:'Liberation Sans',sans-serif" dy="1.6">SRR4426196-IV-YBH-Jiangsu</text>
<text x="877.4" y="179.0" font-size="4.15" text-anchor="start" fill="#1a1a1a" font-weight="bold" transform="rotate(357.65 877.4 179.0)" style="font-family:'Liberation Sans',sans-serif" dy="1.6">SRR4426154-VI-YBH-Jiangsu</text>
<polygon points="733,142 750,126 776,120 800,128 820,146 834,168 868,183 765,204 748,198 742,186 738,168" fill="#fff"/>
<polygon points="728,133 738,96 755,89 762,70 779,117 750,126" fill="#fff"/>
<polygon points="711,231 735,194 765,203 722,242" fill="#fff"/>
<path d="M692,121 L738,96 L728,131 Z" fill="#ff0a0a" stroke="#cc0000" stroke-width="0.8"/>
<text x="719.0" y="119.0" font-size="12.5" font-weight="bold" text-anchor="middle" fill="#000" >A</text>
<path d="M743,101 L753,101 L749,118 Z" fill="#5050ee" stroke="#2a2acc" stroke-width="0.8"/>
<text x="750.0" y="110.0" font-size="12.5" font-weight="bold" text-anchor="middle" fill="#000" >B</text>
<path d="M758,64 Q800,70 829,91 L780,116 Z" fill="#6969ff" stroke="#2828d8" stroke-width="0.8"/>
<text x="790.0" y="96.0" font-size="12.5" font-weight="bold" text-anchor="middle" fill="#000" >C</text>
<path d="M822,107 L841,130 L814,134 Z" fill="#6969ff" stroke="#2828d8" stroke-width="0.8"/>
<text x="825.0" y="128.0" font-size="12.5" font-weight="bold" text-anchor="middle" fill="#000" >D</text>
<path d="M859,125 Q870,150 874,176 L829,162 Z" fill="#90f090" stroke="#70d070" stroke-width="0.8"/>
<text x="855.0" y="160.0" font-size="12.5" font-weight="bold" text-anchor="middle" fill="#000" >E</text>
<path d="M678,156 Q676,177 679,198.6 L738,181 Z" fill="#ffee00" stroke="#e0d000" stroke-width="0.8"/>
<text x="696.0" y="183.0" font-size="12.5" font-weight="bold" text-anchor="middle" fill="#000" >F</text>
<path d="M691,198 L735,194 L711,231 Z" fill="#7c00e4" stroke="#6000c0" stroke-width="0.8"/>
<text x="710.0" y="215.0" font-size="12.5" font-weight="bold" text-anchor="middle" fill="#000" >G</text>
<path d="M765,203.4 L868.6,183.4 C872,230 840,290 770.7,295.6 C740,296 705,287 682,269.6 Z" fill="#ff8cff" stroke="#ee70ee" stroke-width="0.8"/>
<text x="771.0" y="262.0" font-size="12.5" font-weight="bold" text-anchor="middle" fill="#000" >H</text>
<g transform="translate(690,100) scale(0.19778)" fill="none" stroke-width="7" stroke-linejoin="round">
<path d="M195,182 Q245,160 302,153" stroke="#e04848"/>
<path d="M302,153 L306,188 M218,208 Q260,190 306,188 M302,153 Q360,140 415,140 L410,168" stroke="#333"/>
<path d="M300,92 L302,124 Q360,125 415,140" stroke="#4848c8"/>
<path d="M445,85 L446,113 Q500,140 540,180" stroke="#4848c8"/>
<path d="M540,180 L524,196 M540,180 Q600,215 640,255 L620,268" stroke="#333"/>
<path d="M606,185 L600,193 Q625,220 640,255" stroke="#4848c8"/>
<path d="M645,258 Q660,295 678,320 L705,316" stroke="#70d070"/>
<path d="M218,208 L236,225 L214,245 L204,258 L198,290 L212,302 L196,334 L220,355 L214,377 L244,382 L240,402 L270,405 L276,445 L326,420 M276,445 Q292,465 302,490" stroke="#333"/>
<path d="M236,225 L150,256 M204,258 L150,268 M212,302 L160,292 M196,334 L150,322 M214,377 L175,352" stroke="#9a9a9a" stroke-width="3"/>
<path d="M240,402 L245,412" stroke="#e0d040"/>
<path d="M302,490 Q280,465 250,466 L228,480" stroke="#9a50d8"/>
<path d="M302,490 Q330,492 352,500 L372,522" stroke="#f090f0"/>
</g>
<text x="894.5" y="264.6" font-size="12.0" font-weight="normal" text-anchor="start" fill="#000" textLength="127.6" lengthAdjust="spacingAndGlyphs" stroke="#000" stroke-width="0.35">The neighbor-joining</text>
<text x="894.5" y="279.7" font-size="12.0" font-weight="normal" text-anchor="start" fill="#000" textLength="136.6" lengthAdjust="spacingAndGlyphs" stroke="#000" stroke-width="0.35">phylogenetic tree was</text>
<text x="894.5" y="294.8" font-size="12.0" font-weight="normal" text-anchor="start" fill="#000" textLength="133.6" lengthAdjust="spacingAndGlyphs" stroke="#000" stroke-width="0.35">constructed based on</text>
<text x="894.5" y="309.9" font-size="12.0" font-weight="normal" text-anchor="start" fill="#000" textLength="135.3" lengthAdjust="spacingAndGlyphs" stroke="#000" stroke-width="0.35">effective exonic SNPs</text>
<text x="894.5" y="325.0" font-size="12.0" font-weight="normal" text-anchor="start" fill="#000" textLength="153.4" lengthAdjust="spacingAndGlyphs" stroke="#000" stroke-width="0.35">identified in all samples.</text>
<rect x="14" y="402" width="519" height="184" fill="#000"/>
<rect x="165" y="402" width="368" height="184" fill="#050505"/>
<rect x="138" y="475.8" width="40.4" height="54.2" fill="#080808"/>
<rect x="270" y="400.8" width="17" height="1.2" fill="#333"/>
<rect x="301" y="399" width="18" height="2" fill="#999"/>
<defs><radialGradient id="s1" cx="55%" cy="50%" r="55%"><stop offset="0" stop-color="#8a8390"/><stop offset="0.7" stop-color="#9b95a0"/><stop offset="0.9" stop-color="#ada594"/><stop offset="1" stop-color="#c4b898"/></radialGradient><radialGradient id="s2" cx="55%" cy="55%" r="60%"><stop offset="0" stop-color="#7e7874"/><stop offset="0.6" stop-color="#9d968e"/><stop offset="0.9" stop-color="#b0a796"/><stop offset="1" stop-color="#c4b898"/></radialGradient><linearGradient id="hair" x1="0" y1="0" x2="1" y2="0"><stop offset="0" stop-color="#e6d7a6" stop-opacity="0.9"/><stop offset="1" stop-color="#d6c8a0" stop-opacity="0"/></linearGradient></defs>
<defs><filter id="bl1" x="-20%" y="-20%" width="140%" height="140%"><feGaussianBlur stdDeviation="1.6"/></filter><filter id="bl2" x="-20%" y="-20%" width="140%" height="140%"><feGaussianBlur stdDeviation="0.7"/></filter><filter id="tex" x="0" y="0" width="100%" height="100%"><feTurbulence type="fractalNoise" baseFrequency="0.18" numOctaves="3" seed="5"/><feColorMatrix type="matrix" values="0 0 0 0 0.25  0 0 0 0 0.22  0 0 0 0 0.2  0 0 0 -2.2 1.25"/></filter><filter id="tex2" x="0" y="0" width="100%" height="100%"><feTurbulence type="fractalNoise" baseFrequency="0.22" numOctaves="3" seed="9"/><feColorMatrix type="matrix" values="0 0 0 0 0.9  0 0 0 0 0.86  0 0 0 0 0.75  0 0 0 -2.5 1.2"/></filter><clipPath id="c1"><path id="p1" d="M20.1,438.8 C26,430 33,420 41.6,417.3 C50,413 55,413 60,412.7 C75,409 85,408 90.6,408 C105,408 112,410 121.3,412.7 C132,417 139,420 144.2,425 C150,430 154,434 155,438.8 C157,444 157,448 156.5,452.6 C155,459 151,463 147.3,466.4 C141,472 135,476 129,478.6 C118,483 108,486 98.3,486.3 C90,487 82,486 75.3,485.5 C66,483 58,479 52.3,475.6 C45,471 41,468 37,463.3 C31,457 27,452 23.2,448 C21,445 20,442 20.1,438.8 Z"/></clipPath><clipPath id="c2"><path d="M33.2,495.7 C45,492 52,491 57.7,492.2 C70,497 80,502 87.4,506.2 C100,513 110,518 118.8,523.7 C127,530 132,536 136.3,542.9 C141,550 143,556 144.2,562.1 C145,569 144,574 141.5,577.8 C137,582 133,583 127.6,583.1 C120,583 115,581 110,579.6 C102,575 94,571 87.4,567.4 C78,562 72,558 66.4,553.4 C58,546 53,542 49,537.7 C44,532 42,528 40.2,523.7 C37,516 36,510 35,506.2 C34,502 33,499 33.2,495.7 Z"/></clipPath></defs>
<g clip-path="url(#c1)">
<rect x="14" y="402" width="150" height="90" fill="#b2a68e"/>
<g filter="url(#bl1)">
<path d="M36,424 C60,411 115,409 144,423 C151,430 154,434 153,437 C115,431 75,432 40,437 Z" fill="#847a7c"/>
<path d="M34,450 C80,446 128,446 154,448 C152,464 134,478 106,484 C76,486 52,478 36,466 Z" fill="#958c8e"/>
<path d="M40,440 C80,436 120,436 150,440 L150,446 C120,445 80,446 40,448 Z" fill="#b9ae98"/>
</g>
<path d="M42,436.5 C80,433 120,433 150,438" fill="none" stroke="#6a6268" stroke-width="0.8" stroke-opacity="0.5"/>
<path d="M14,402 L40,402 L38,495 L14,495 Z" fill="#d9caa0" fill-opacity="0.6" filter="url(#bl1)"/>
<rect x="14" y="402" width="150" height="90" filter="url(#tex)" opacity="0.45"/>
<rect x="14" y="402" width="150" height="90" filter="url(#tex2)" opacity="0.2"/>
</g>
<path d="M22.0,423.0 l-5.0,-2.5" stroke="#d8c99c" stroke-width="0.7" stroke-opacity="0.8"/>
<path d="M22.8,427.2 l-6.5,-2.0" stroke="#d8c99c" stroke-width="0.7" stroke-opacity="0.8"/>
<path d="M23.6,431.4 l-8.0,-1.5" stroke="#d8c99c" stroke-width="0.7" stroke-opacity="0.8"/>
<path d="M24.4,435.6 l-5.0,-1.0" stroke="#d8c99c" stroke-width="0.7" stroke-opacity="0.8"/>
<path d="M25.2,439.8 l-6.5,-0.5" stroke="#d8c99c" stroke-width="0.7" stroke-opacity="0.8"/>
<path d="M26.0,444.0 l-8.0,0.0" stroke="#d8c99c" stroke-width="0.7" stroke-opacity="0.8"/>
<path d="M25.2,448.2 l-5.0,0.5" stroke="#d8c99c" stroke-width="0.7" stroke-opacity="0.8"/>
<path d="M24.4,452.4 l-6.5,1.0" stroke="#d8c99c" stroke-width="0.7" stroke-opacity="0.8"/>
<path d="M23.6,456.6 l-8.0,1.5" stroke="#d8c99c" stroke-width="0.7" stroke-opacity="0.8"/>
<path d="M22.8,460.8 l-5.0,2.0" stroke="#d8c99c" stroke-width="0.7" stroke-opacity="0.8"/>
<g clip-path="url(#c2)">
<rect x="14" y="485" width="140" height="101" fill="#9e968a"/>
<g filter="url(#bl1)">
<path d="M64,508 C92,516 120,534 140,564 C134,576 116,574 102,560 C86,545 72,528 64,508 Z" fill="#7a736a"/>
<path d="M38,520 C50,540 70,556 100,574 C115,582 130,585 140,580 L120,590 L30,590 Z" fill="#9a948e"/>
<path d="M14,485 L62,485 C64,500 56,515 42,526 L14,530 Z" fill="#d0c092"/>
</g>
<path d="M72.0,516.0 l7,-4.5" stroke="#4e4943" stroke-width="0.8" stroke-opacity="0.45"/>
<path d="M79.9,522.4 l7,-4.5" stroke="#4e4943" stroke-width="0.8" stroke-opacity="0.45"/>
<path d="M87.7,528.9 l7,-4.5" stroke="#4e4943" stroke-width="0.8" stroke-opacity="0.45"/>
<path d="M95.6,535.3 l7,-4.5" stroke="#4e4943" stroke-width="0.8" stroke-opacity="0.45"/>
<path d="M103.4,541.7 l7,-4.5" stroke="#4e4943" stroke-width="0.8" stroke-opacity="0.45"/>
<path d="M111.3,548.1 l7,-4.5" stroke="#4e4943" stroke-width="0.8" stroke-opacity="0.45"/>
<path d="M119.1,554.6 l7,-4.5" stroke="#4e4943" stroke-width="0.8" stroke-opacity="0.45"/>
<path d="M127.0,561.0 l7,-4.5" stroke="#4e4943" stroke-width="0.8" stroke-opacity="0.45"/>
<rect x="14" y="485" width="140" height="101" filter="url(#tex)" opacity="0.5"/>
<rect x="14" y="485" width="140" height="101" filter="url(#tex2)" opacity="0.2"/>
</g>
<path d="M161.7,485 C169,486 175,494 175.6,502.3 C176,512 170,521 161.1,527.7 C154,524 147.5,516 147.3,504.6 C147,495 154,486 161.7,485 Z" fill="#f4bf0c"/>
<path d="M151,493 C146,500 146,512 151,520 L156,524 C151,514 150,502 154,491 Z" fill="#f39a1a"/>
<path d="M152,518 L154,521 L155,517 L157,522 L159,518 L161,523 L163,518 L165,522 L167,517 L169,521 L170,517 C168,523 165,527 161.1,528 C157,527 154,523 152,518 Z" fill="#6a5418"/>
<path d="M145.6,497.7 L145.6,482.7 L177.3,482.7 L177.3,497.7 L145.6,497.7" fill="none" stroke="#cfcfcf" stroke-width="0.7" stroke-dasharray="1,0.9"/>
<text x="237.8" y="421.8" font-size="6.9" font-weight="normal" text-anchor="middle" fill="#d6d6d6" >AA</text>
<defs><linearGradient id="g1960_424" x1="0" y1="0" x2="1" y2="0"><stop offset="0" stop-color="#848482"/><stop offset="0.45" stop-color="#b2b4b6"/><stop offset="1" stop-color="#848482"/></linearGradient></defs>
<path d="M196.0,457.0 L197.7,434.1 C199.1,425.3 202.2,424.3 204.6,424.3 C207.0,424.3 210.1,425.3 211.5,434.1 L213.2,457.0 Z" fill="url(#g1960_424)"/>
<ellipse cx="203.2" cy="442.3" rx="3.4" ry="9.2" fill="#fff" fill-opacity="0.12"/>
<rect x="214.8" y="431.6" width="1.1" height="8.3" fill="#7a1010"/>
<rect x="216.7" y="430.3" width="3.7" height="10.3" fill="#e4e4e4"/>
<text x="204.6" y="463.0" font-size="3.2" font-weight="normal" text-anchor="middle" fill="#bbb" >TA0185</text>
<defs><linearGradient id="g2295_424" x1="0" y1="0" x2="1" y2="0"><stop offset="0" stop-color="#736e60"/><stop offset="0.45" stop-color="#9a9582"/><stop offset="1" stop-color="#736e60"/></linearGradient></defs>
<path d="M229.5,457.0 L231.1,434.1 C232.3,425.3 235.2,424.3 237.4,424.3 C239.6,424.3 242.5,425.3 243.7,434.1 L245.3,457.0 Z" fill="url(#g2295_424)"/>
<ellipse cx="236.1" cy="442.3" rx="3.2" ry="9.2" fill="#fff" fill-opacity="0.12"/>
<rect x="246.9" y="431.6" width="1.1" height="8.3" fill="#7a1010"/>
<rect x="248.8" y="430.3" width="3.7" height="10.3" fill="#e4e4e4"/>
<text x="237.4" y="463.0" font-size="3.2" font-weight="normal" text-anchor="middle" fill="#bbb" >TA0722</text>
<defs><linearGradient id="g2607_424" x1="0" y1="0" x2="1" y2="0"><stop offset="0" stop-color="#818186"/><stop offset="0.45" stop-color="#b0b2b8"/><stop offset="1" stop-color="#818186"/></linearGradient></defs>
<path d="M260.7,457.0 L262.2,434.1 C263.5,425.3 266.2,424.3 268.4,424.3 C270.5,424.3 273.2,425.3 274.5,434.1 L276.0,457.0 Z" fill="url(#g2607_424)"/>
<ellipse cx="267.1" cy="442.3" rx="3.1" ry="9.2" fill="#fff" fill-opacity="0.12"/>
<rect x="277.6" y="431.6" width="1.1" height="8.3" fill="#7a1010"/>
<rect x="279.5" y="430.3" width="3.7" height="10.3" fill="#e4e4e4"/>
<text x="268.4" y="463.0" font-size="3.2" font-weight="normal" text-anchor="middle" fill="#bbb" >TA0976</text>
<text x="353.8" y="421.8" font-size="6.9" font-weight="normal" text-anchor="middle" fill="#d6d6d6" >BB/SS</text>
<defs><linearGradient id="g3090_424" x1="0" y1="0" x2="1" y2="0"><stop offset="0" stop-color="#7a7360"/><stop offset="0.45" stop-color="#aca487"/><stop offset="1" stop-color="#7a7360"/></linearGradient></defs>
<path d="M309.0,457.0 L311.1,434.1 C312.8,425.3 316.6,424.3 319.5,424.3 C322.4,424.3 326.2,425.3 327.9,434.1 L330.0,457.0 Z" fill="url(#g3090_424)"/>
<ellipse cx="317.8" cy="442.3" rx="4.2" ry="9.2" fill="#fff" fill-opacity="0.12"/>
<rect x="331.6" y="431.6" width="1.1" height="8.3" fill="#7a1010"/>
<rect x="333.5" y="430.3" width="3.7" height="10.3" fill="#e4e4e4"/>
<text x="319.5" y="463.0" font-size="3.2" font-weight="normal" text-anchor="middle" fill="#bbb" >TA0327</text>
<defs><linearGradient id="g3424_424" x1="0" y1="0" x2="1" y2="0"><stop offset="0" stop-color="#50495b"/><stop offset="0.45" stop-color="#867e90"/><stop offset="1" stop-color="#50495b"/></linearGradient></defs>
<path d="M342.4,457.0 L344.5,434.1 C346.2,425.3 350.0,424.3 353.0,424.3 C356.0,424.3 359.8,425.3 361.5,434.1 L363.6,457.0 Z" fill="url(#g3424_424)"/>
<ellipse cx="351.3" cy="442.3" rx="4.2" ry="9.2" fill="#fff" fill-opacity="0.12"/>
<rect x="365.2" y="431.6" width="1.1" height="8.3" fill="#7a1010"/>
<rect x="367.1" y="430.3" width="3.7" height="10.3" fill="#e4e4e4"/>
<text x="353.0" y="463.0" font-size="3.2" font-weight="normal" text-anchor="middle" fill="#bbb" >TA0168</text>
<defs><linearGradient id="g3740_424" x1="0" y1="0" x2="1" y2="0"><stop offset="0" stop-color="#807867"/><stop offset="0.45" stop-color="#b2ac97"/><stop offset="1" stop-color="#807867"/></linearGradient></defs>
<path d="M374.0,457.0 L376.0,434.1 C377.6,425.3 381.2,424.3 384.0,424.3 C386.8,424.3 390.4,425.3 392.0,434.1 L394.0,457.0 Z" fill="url(#g3740_424)"/>
<ellipse cx="382.4" cy="442.3" rx="4.0" ry="9.2" fill="#fff" fill-opacity="0.12"/>
<rect x="395.6" y="431.6" width="1.1" height="8.3" fill="#7a1010"/>
<rect x="397.5" y="430.3" width="3.7" height="10.3" fill="#e4e4e4"/>
<text x="384.0" y="463.0" font-size="3.2" font-weight="normal" text-anchor="middle" fill="#bbb" >TA0370</text>
<text x="475.0" y="421.8" font-size="6.9" font-weight="normal" text-anchor="middle" fill="#d6d6d6" >DD</text>
<defs><linearGradient id="g4260_424" x1="0" y1="0" x2="1" y2="0"><stop offset="0" stop-color="#736f6e"/><stop offset="0.45" stop-color="#a5a19e"/><stop offset="1" stop-color="#736f6e"/></linearGradient></defs>
<path d="M426.0,457.0 L428.2,434.1 C430.0,425.3 433.9,424.3 437.0,424.3 C440.1,424.3 444.0,425.3 445.8,434.1 L448.0,457.0 Z" fill="url(#g4260_424)"/>
<ellipse cx="435.2" cy="442.3" rx="4.4" ry="9.2" fill="#fff" fill-opacity="0.12"/>
<rect x="449.6" y="431.6" width="1.1" height="8.3" fill="#7a1010"/>
<rect x="451.5" y="430.3" width="3.7" height="10.3" fill="#e4e4e4"/>
<text x="437.0" y="463.0" font-size="3.2" font-weight="normal" text-anchor="middle" fill="#bbb" >TA0983</text>
<defs><linearGradient id="g4620_424" x1="0" y1="0" x2="1" y2="0"><stop offset="0" stop-color="#6e6863"/><stop offset="0.45" stop-color="#9f9a95"/><stop offset="1" stop-color="#6e6863"/></linearGradient></defs>
<path d="M462.0,457.0 L464.6,434.1 C466.7,425.3 471.4,424.3 475.0,424.3 C478.6,424.3 483.3,425.3 485.4,434.1 L488.0,457.0 Z" fill="url(#g4620_424)"/>
<ellipse cx="472.9" cy="442.3" rx="5.2" ry="9.2" fill="#fff" fill-opacity="0.12"/>
<rect x="489.6" y="431.6" width="1.1" height="8.3" fill="#7a1010"/>
<rect x="491.5" y="430.3" width="3.7" height="10.3" fill="#e4e4e4"/>
<text x="475.0" y="463.0" font-size="3.2" font-weight="normal" text-anchor="middle" fill="#bbb" >TA0224</text>
<defs><linearGradient id="g4977_424" x1="0" y1="0" x2="1" y2="0"><stop offset="0" stop-color="#656268"/><stop offset="0.45" stop-color="#999599"/><stop offset="1" stop-color="#656268"/></linearGradient></defs>
<path d="M497.7,457.0 L500.0,434.1 C501.9,425.3 506.1,424.3 509.4,424.3 C512.6,424.3 516.8,425.3 518.7,434.1 L521.0,457.0 Z" fill="url(#g4977_424)"/>
<ellipse cx="507.5" cy="442.3" rx="4.7" ry="9.2" fill="#fff" fill-opacity="0.12"/>
<rect x="522.6" y="431.6" width="1.1" height="8.3" fill="#7a1010"/>
<rect x="524.5" y="430.3" width="3.7" height="10.3" fill="#e4e4e4"/>
<text x="509.4" y="463.0" font-size="3.2" font-weight="normal" text-anchor="middle" fill="#bbb" >TA0564</text>
<text x="239.5" y="490.5" font-size="6.9" font-weight="normal" text-anchor="middle" fill="#d6d6d6" >BBAA (wild)</text>
<defs><linearGradient id="g1960_491" x1="0" y1="0" x2="1" y2="0"><stop offset="0" stop-color="#766f60"/><stop offset="0.45" stop-color="#a59e89"/><stop offset="1" stop-color="#766f60"/></linearGradient></defs>
<path d="M196.0,524.3 L197.7,501.6 C199.1,492.8 202.1,491.8 204.5,491.8 C206.9,491.8 209.9,492.8 211.3,501.6 L213.0,524.3 Z" fill="url(#g1960_491)"/>
<ellipse cx="203.1" cy="509.7" rx="3.4" ry="9.1" fill="#fff" fill-opacity="0.12"/>
<rect x="216.5" y="497.0" width="3.7" height="9.0" fill="#e4e4e4"/>
<text x="204.5" y="528.8" font-size="3.2" font-weight="normal" text-anchor="middle" fill="#bbb" >TA0111</text>
<defs><linearGradient id="g2280_491" x1="0" y1="0" x2="1" y2="0"><stop offset="0" stop-color="#76767b"/><stop offset="0.45" stop-color="#a8a8ac"/><stop offset="1" stop-color="#76767b"/></linearGradient></defs>
<path d="M228.0,524.3 L230.0,501.6 C231.6,492.8 235.2,491.8 238.0,491.8 C240.8,491.8 244.4,492.8 246.0,501.6 L248.0,524.3 Z" fill="url(#g2280_491)"/>
<ellipse cx="236.4" cy="509.7" rx="4.0" ry="9.1" fill="#fff" fill-opacity="0.12"/>
<rect x="251.5" y="497.0" width="3.7" height="9.0" fill="#e4e4e4"/>
<text x="238.0" y="528.8" font-size="3.2" font-weight="normal" text-anchor="middle" fill="#bbb" >TA0447</text>
<defs><linearGradient id="g2606_491" x1="0" y1="0" x2="1" y2="0"><stop offset="0" stop-color="#716c62"/><stop offset="0.45" stop-color="#9e998e"/><stop offset="1" stop-color="#716c62"/></linearGradient></defs>
<path d="M260.6,524.3 L262.3,501.6 C263.7,492.8 266.9,491.8 269.3,491.8 C271.7,491.8 274.9,492.8 276.3,501.6 L278.0,524.3 Z" fill="url(#g2606_491)"/>
<ellipse cx="267.9" cy="509.7" rx="3.5" ry="9.1" fill="#fff" fill-opacity="0.12"/>
<rect x="281.5" y="497.0" width="3.7" height="9.0" fill="#e4e4e4"/>
<text x="269.3" y="528.8" font-size="3.2" font-weight="normal" text-anchor="middle" fill="#bbb" >TA0666</text>
<text x="361.0" y="490.5" font-size="6.9" font-weight="normal" text-anchor="middle" fill="#d6d6d6" >BBAA (cultivated)</text>
<defs><linearGradient id="g3090_491" x1="0" y1="0" x2="1" y2="0"><stop offset="0" stop-color="#766f5e"/><stop offset="0.45" stop-color="#a8a18d"/><stop offset="1" stop-color="#766f5e"/></linearGradient></defs>
<path d="M309.0,524.3 L311.0,501.6 C312.6,492.8 316.2,491.8 319.0,491.8 C321.8,491.8 325.4,492.8 327.0,501.6 L329.0,524.3 Z" fill="url(#g3090_491)"/>
<ellipse cx="317.4" cy="509.7" rx="4.0" ry="9.1" fill="#fff" fill-opacity="0.12"/>
<rect x="332.5" y="497.0" width="3.7" height="9.0" fill="#e4e4e4"/>
<text x="319.0" y="528.8" font-size="3.2" font-weight="normal" text-anchor="middle" fill="#bbb" >TA0527</text>
<defs><linearGradient id="g3420_491" x1="0" y1="0" x2="1" y2="0"><stop offset="0" stop-color="#716f6c"/><stop offset="0.45" stop-color="#a19f9e"/><stop offset="1" stop-color="#716f6c"/></linearGradient></defs>
<path d="M342.0,524.3 L344.5,501.6 C346.5,492.8 351.0,491.8 354.5,491.8 C358.0,491.8 362.5,492.8 364.5,501.6 L367.0,524.3 Z" fill="url(#g3420_491)"/>
<ellipse cx="352.5" cy="509.7" rx="5.0" ry="9.1" fill="#fff" fill-opacity="0.12"/>
<rect x="370.5" y="497.0" width="3.7" height="9.0" fill="#e4e4e4"/>
<text x="354.5" y="528.8" font-size="3.2" font-weight="normal" text-anchor="middle" fill="#bbb" >TA0374</text>
<defs><linearGradient id="g3740_491" x1="0" y1="0" x2="1" y2="0"><stop offset="0" stop-color="#787468"/><stop offset="0.45" stop-color="#aaa69a"/><stop offset="1" stop-color="#787468"/></linearGradient></defs>
<path d="M374.0,524.3 L376.2,501.6 C378.0,492.8 381.9,491.8 385.0,491.8 C388.1,491.8 392.0,492.8 393.8,501.6 L396.0,524.3 Z" fill="url(#g3740_491)"/>
<ellipse cx="383.2" cy="509.7" rx="4.4" ry="9.1" fill="#fff" fill-opacity="0.12"/>
<rect x="399.5" y="497.0" width="3.7" height="9.0" fill="#e4e4e4"/>
<text x="385.0" y="528.8" font-size="3.2" font-weight="normal" text-anchor="middle" fill="#bbb" >TA0736</text>
<text x="476.3" y="490.5" font-size="6.9" font-weight="normal" text-anchor="middle" fill="#d6d6d6" >BBAADD</text>
<defs><linearGradient id="g4250_491" x1="0" y1="0" x2="1" y2="0"><stop offset="0" stop-color="#4d483d"/><stop offset="0.45" stop-color="#7a7365"/><stop offset="1" stop-color="#4d483d"/></linearGradient></defs>
<path d="M425.0,524.3 L427.4,501.6 C429.3,492.8 433.6,491.8 437.0,491.8 C440.4,491.8 444.7,492.8 446.6,501.6 L449.0,524.3 Z" fill="url(#g4250_491)"/>
<ellipse cx="435.1" cy="509.7" rx="4.8" ry="9.1" fill="#fff" fill-opacity="0.12"/>
<rect x="452.5" y="497.0" width="3.7" height="9.0" fill="#e4e4e4"/>
<text x="437.0" y="528.8" font-size="3.2" font-weight="normal" text-anchor="middle" fill="#bbb" >TA0232</text>
<defs><linearGradient id="g4610_491" x1="0" y1="0" x2="1" y2="0"><stop offset="0" stop-color="#6e624d"/><stop offset="0.45" stop-color="#9e9073"/><stop offset="1" stop-color="#6e624d"/></linearGradient></defs>
<path d="M461.0,524.3 L463.7,501.6 C465.9,492.8 470.7,491.8 474.5,491.8 C478.3,491.8 483.1,492.8 485.3,501.6 L488.0,524.3 Z" fill="url(#g4610_491)"/>
<ellipse cx="472.3" cy="509.7" rx="5.4" ry="9.1" fill="#fff" fill-opacity="0.12"/>
<rect x="491.5" y="497.0" width="3.7" height="9.0" fill="#e4e4e4"/>
<text x="474.5" y="528.8" font-size="3.2" font-weight="normal" text-anchor="middle" fill="#bbb" >TA0144</text>
<defs><linearGradient id="g4977_491" x1="0" y1="0" x2="1" y2="0"><stop offset="0" stop-color="#737376"/><stop offset="0.45" stop-color="#a1a1a3"/><stop offset="1" stop-color="#737376"/></linearGradient></defs>
<path d="M497.7,524.3 L500.0,501.6 C501.8,492.8 505.9,491.8 509.1,491.8 C512.3,491.8 516.4,492.8 518.2,501.6 L520.5,524.3 Z" fill="url(#g4977_491)"/>
<ellipse cx="507.3" cy="509.7" rx="4.6" ry="9.1" fill="#fff" fill-opacity="0.12"/>
<rect x="524.0" y="497.0" width="3.7" height="9.0" fill="#e4e4e4"/>
<text x="509.1" y="528.8" font-size="3.2" font-weight="normal" text-anchor="middle" fill="#bbb" >TA0639</text>
<text x="240.0" y="548.5" font-size="6.9" font-weight="normal" text-anchor="middle" fill="#d6d6d6" >GMG3</text>
<defs><linearGradient id="g2280_550" x1="0" y1="0" x2="1" y2="0"><stop offset="0" stop-color="#4e4440"/><stop offset="0.45" stop-color="#7e7068"/><stop offset="1" stop-color="#4e4440"/></linearGradient></defs>
<path d="M228.0,580.5 L230.3,559.1 C232.1,550.9 236.3,550.0 239.5,550.0 C242.7,550.0 246.9,550.9 248.7,559.1 L251.0,580.5 Z" fill="url(#g2280_550)"/>
<ellipse cx="237.7" cy="566.8" rx="4.6" ry="8.5" fill="#fff" fill-opacity="0.12"/>
<rect x="254.5" y="556.0" width="3.7" height="7.0" fill="#e4e4e4"/>
<text x="357.0" y="548.5" font-size="6.9" font-weight="normal" text-anchor="middle" fill="#d6d6d6" >M13-7-6</text>
<defs><linearGradient id="g3440_550" x1="0" y1="0" x2="1" y2="0"><stop offset="0" stop-color="#4a4440"/><stop offset="0.45" stop-color="#7a7068"/><stop offset="1" stop-color="#4a4440"/></linearGradient></defs>
<path d="M344.0,580.5 L346.4,559.1 C348.4,550.9 352.8,550.0 356.2,550.0 C359.6,550.0 364.0,550.9 366.0,559.1 L368.4,580.5 Z" fill="url(#g3440_550)"/>
<ellipse cx="354.2" cy="566.8" rx="4.9" ry="8.5" fill="#fff" fill-opacity="0.12"/>
<rect x="371.9" y="556.0" width="3.7" height="7.0" fill="#e4e4e4"/>
<text x="479.0" y="548.5" font-size="6.9" font-weight="normal" text-anchor="middle" fill="#d6d6d6" >M29-19-2</text>
<defs><linearGradient id="g4630_550" x1="0" y1="0" x2="1" y2="0"><stop offset="0" stop-color="#585248"/><stop offset="0.45" stop-color="#8a8274"/><stop offset="1" stop-color="#585248"/></linearGradient></defs>
<path d="M463.0,580.5 L465.6,559.1 C467.6,550.9 472.2,550.0 475.8,550.0 C479.4,550.0 484.0,550.9 486.0,559.1 L488.6,580.5 Z" fill="url(#g4630_550)"/>
<ellipse cx="473.8" cy="566.8" rx="5.1" ry="8.5" fill="#fff" fill-opacity="0.12"/>
<rect x="492.1" y="556.0" width="3.7" height="7.0" fill="#e4e4e4"/>
<rect x="594.5" y="372.5" width="265" height="223.5" fill="#fff" stroke="#b5b5b5" stroke-width="0.8"/>
<rect x="600.0" y="428.9" width="32.6" height="48.3" fill="#f8766d"/>
<rect x="600.0" y="477.2" width="32.6" height="64.6" fill="#00ba38"/>
<rect x="600.0" y="541.8" width="32.6" height="44.2" fill="#619cff"/>
<text x="616.3" y="601.5" font-size="5.8" font-weight="bold" text-anchor="middle" fill="#3a3a3a" style="font-family:'Liberation Sans',sans-serif">chr1</text>
<rect x="636.8" y="385.9" width="32.9" height="63.9" fill="#f8766d"/>
<rect x="636.8" y="449.8" width="32.9" height="77.2" fill="#00ba38"/>
<rect x="636.8" y="527.0" width="32.9" height="59.0" fill="#619cff"/>
<text x="653.2" y="601.5" font-size="5.8" font-weight="bold" text-anchor="middle" fill="#3a3a3a" style="font-family:'Liberation Sans',sans-serif">chr2</text>
<rect x="673.8" y="382.7" width="33.0" height="65.2" fill="#f8766d"/>
<rect x="673.8" y="447.9" width="33.0" height="81.8" fill="#00ba38"/>
<rect x="673.8" y="529.7" width="33.0" height="56.3" fill="#619cff"/>
<text x="690.3" y="601.5" font-size="5.8" font-weight="bold" text-anchor="middle" fill="#3a3a3a" style="font-family:'Liberation Sans',sans-serif">chr3</text>
<rect x="710.2" y="403.8" width="33.2" height="67.3" fill="#f8766d"/>
<rect x="710.2" y="471.1" width="33.2" height="68.9" fill="#00ba38"/>
<rect x="710.2" y="540.0" width="33.2" height="46.0" fill="#619cff"/>
<text x="726.8" y="601.5" font-size="5.8" font-weight="bold" text-anchor="middle" fill="#3a3a3a" style="font-family:'Liberation Sans',sans-serif">chr4</text>
<rect x="747.5" y="405.0" width="33.1" height="60.3" fill="#f8766d"/>
<rect x="747.5" y="465.3" width="33.1" height="68.8" fill="#00ba38"/>
<rect x="747.5" y="534.1" width="33.1" height="51.9" fill="#619cff"/>
<text x="764.0" y="601.5" font-size="5.8" font-weight="bold" text-anchor="middle" fill="#3a3a3a" style="font-family:'Liberation Sans',sans-serif">chr5</text>
<rect x="784.4" y="426.1" width="32.9" height="51.0" fill="#f8766d"/>
<rect x="784.4" y="477.1" width="32.9" height="65.5" fill="#00ba38"/>
<rect x="784.4" y="542.6" width="32.9" height="43.4" fill="#619cff"/>
<text x="800.8" y="601.5" font-size="5.8" font-weight="bold" text-anchor="middle" fill="#3a3a3a" style="font-family:'Liberation Sans',sans-serif">chr6</text>
<rect x="821.0" y="395.4" width="33.2" height="61.6" fill="#f8766d"/>
<rect x="821.0" y="457.0" width="33.2" height="69.1" fill="#00ba38"/>
<rect x="821.0" y="526.1" width="33.2" height="59.9" fill="#619cff"/>
<text x="837.6" y="601.5" font-size="5.8" font-weight="bold" text-anchor="middle" fill="#3a3a3a" style="font-family:'Liberation Sans',sans-serif">chr7</text>
<line x1="592" y1="586.2" x2="594.5" y2="586.2" stroke="#999" stroke-width="0.6"/>
<text x="590" y="587.9" font-size="5" text-anchor="end" fill="#666" style="font-family:'Liberation Sans',sans-serif">0</text>
<line x1="592" y1="522.3" x2="594.5" y2="522.3" stroke="#999" stroke-width="0.6"/>
<text x="590" y="524.0" font-size="5" text-anchor="end" fill="#666" style="font-family:'Liberation Sans',sans-serif">5</text>
<line x1="592" y1="458.4" x2="594.5" y2="458.4" stroke="#999" stroke-width="0.6"/>
<text x="590" y="460.1" font-size="5" text-anchor="end" fill="#666" style="font-family:'Liberation Sans',sans-serif">10</text>
<line x1="592" y1="394.5" x2="594.5" y2="394.5" stroke="#999" stroke-width="0.6"/>
<text x="590" y="396.2" font-size="5" text-anchor="end" fill="#666" style="font-family:'Liberation Sans',sans-serif">15</text>
<text x="0" y="0" font-size="7.2" text-anchor="middle" fill="#333" transform="translate(583,487) rotate(-90)" style="font-family:'Liberation Sans',sans-serif">mapping reads proportion</text>
<text x="727.5" y="609" font-size="8" text-anchor="middle" fill="#222" style="font-family:'Liberation Sans',sans-serif">chromosomes</text>
<text x="866.5" y="475" font-size="4" fill="#555" style="font-family:'Liberation Sans',sans-serif">subgenome</text>
<rect x="866.8" y="477.0" width="6" height="6.4" fill="#f8766d"/>
<text x="874.6" y="482.0" font-size="3" fill="#555" style="font-family:'Liberation Sans',sans-serif">A</text>
<rect x="866.8" y="483.8" width="6" height="6.4" fill="#00ba38"/>
<text x="874.6" y="488.8" font-size="3" fill="#555" style="font-family:'Liberation Sans',sans-serif">B</text>
<rect x="866.8" y="490.6" width="6" height="6.4" fill="#619cff"/>
<text x="874.6" y="495.6" font-size="3" fill="#555" style="font-family:'Liberation Sans',sans-serif">D</text>
<text x="873.3" y="532.8" font-size="15.8" font-weight="normal" text-anchor="start" fill="#000" textLength="209.1" lengthAdjust="spacingAndGlyphs" stroke="#000" stroke-width="0.45">Proportions of mapped reads</text>
<text x="873.3" y="551.8" font-size="15.8" font-weight="normal" text-anchor="start" fill="#000" textLength="143.7" lengthAdjust="spacingAndGlyphs" stroke="#000" stroke-width="0.45">covering respective</text>
<text x="873.3" y="570.7" font-size="15.8" font-weight="normal" text-anchor="start" fill="#000" textLength="175.5" lengthAdjust="spacingAndGlyphs" stroke="#000" stroke-width="0.45">subgenomes within each</text>
<text x="873.3" y="589.7" font-size="15.8" font-weight="normal" text-anchor="start" fill="#000" textLength="224.7" lengthAdjust="spacingAndGlyphs" stroke="#000" stroke-width="0.45">homologous chromosome group</text>
</svg></body></html>
